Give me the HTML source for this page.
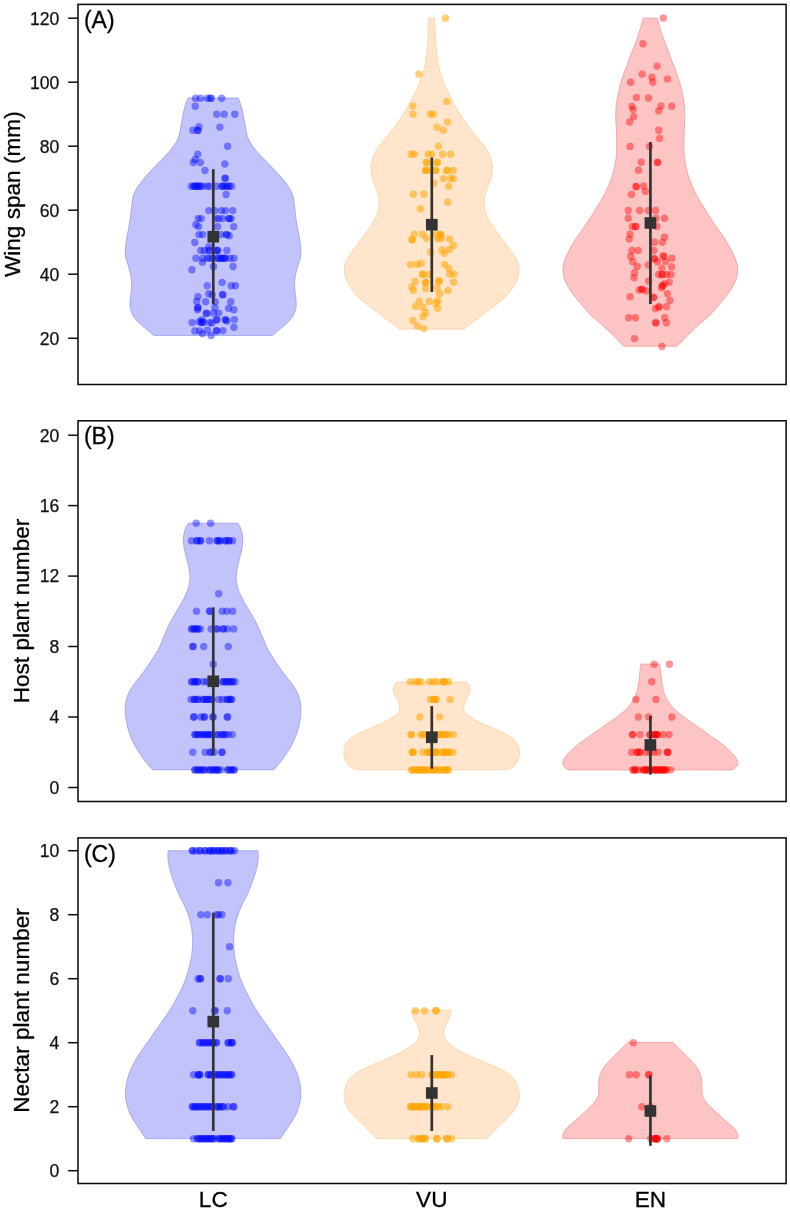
<!DOCTYPE html>
<html><head><meta charset="utf-8"><title>Violin plots</title>
<style>html,body{margin:0;padding:0;background:#fff}svg{display:block}text{font-family:"Liberation Sans",Arial,Helvetica,sans-serif;fill:#000}.tk{font-size:17.6px;fill:#111;stroke:#111;stroke-width:.25px}.ti{font-size:22.6px;stroke:#000;stroke-width:.3px}.pl{font-size:23px;stroke:#000;stroke-width:.3px}</style></head><body>
<svg width="790" height="1210" viewBox="0 0 790 1210">
<rect width="790" height="1210" fill="#fff"/>
<path d="M238.1,98.1 L239.8,102.0 L241.1,106.0 L242.4,111.0 L243.4,116.0 L244.3,121.0 L245.2,126.0 L246.1,131.0 L247.2,136.0 L249.3,141.0 L252.5,146.0 L256.4,151.0 L261.0,156.0 L265.8,161.0 L270.7,166.0 L275.4,171.0 L280.0,176.0 L284.2,181.0 L287.9,186.0 L290.9,191.0 L293.1,196.0 L294.5,206.0 L295.5,216.0 L297.1,226.0 L299.1,236.0 L300.6,246.0 L300.9,252.0 L300.8,256.0 L299.5,261.0 L297.8,266.0 L296.4,271.0 L295.3,276.0 L294.7,281.0 L294.6,286.0 L294.9,291.0 L295.5,296.0 L296.1,301.0 L296.2,306.0 L295.2,311.1 L293.1,316.0 L288.8,321.2 L283.8,326.0 L277.2,331.3 L272.4,335.4 L153.8,335.4 L149.0,331.3 L142.4,326.0 L137.4,321.2 L133.1,316.0 L131.0,311.1 L130.0,306.0 L130.1,301.0 L130.7,296.0 L131.3,291.0 L131.6,286.0 L131.5,281.0 L130.9,276.0 L129.8,271.0 L128.4,266.0 L126.7,261.0 L125.4,256.0 L125.3,252.0 L125.6,246.0 L127.1,236.0 L129.1,226.0 L130.7,216.0 L131.7,206.0 L133.1,196.0 L135.3,191.0 L138.3,186.0 L142.0,181.0 L146.2,176.0 L150.8,171.0 L155.5,166.0 L160.4,161.0 L165.2,156.0 L169.8,151.0 L173.7,146.0 L176.9,141.0 L179.0,136.0 L180.1,131.0 L181.0,126.0 L181.9,121.0 L182.8,116.0 L183.8,111.0 L185.1,106.0 L186.4,102.0 L188.1,98.1Z" fill="#c3c3fb" stroke="#9d9df5" stroke-width="0.85" stroke-linejoin="round"/>
<path d="M434.6,18.1 L434.9,26.0 L435.3,36.0 L435.9,46.0 L436.9,56.0 L438.6,66.0 L441.1,76.0 L445.2,86.0 L450.0,96.0 L455.2,106.0 L461.2,116.0 L468.2,126.0 L476.0,136.0 L484.5,146.0 L490.2,156.0 L492.7,166.0 L491.8,176.0 L488.1,186.0 L484.9,196.0 L484.1,203.0 L484.6,210.0 L486.9,216.0 L489.6,221.0 L492.6,226.0 L495.6,230.0 L499.8,236.0 L507.3,246.0 L514.5,256.0 L517.7,261.0 L518.9,266.0 L519.0,271.0 L518.3,276.0 L516.4,281.0 L514.0,286.0 L510.4,291.0 L508.2,294.0 L506.0,296.5 L500.0,301.5 L494.5,306.0 L488.7,310.2 L482.1,315.2 L475.5,320.3 L468.7,325.3 L464.6,329.1 L398.8,329.1 L394.7,325.3 L387.9,320.3 L381.3,315.2 L374.7,310.2 L368.9,306.0 L363.4,301.5 L357.4,296.5 L355.2,294.0 L353.0,291.0 L349.4,286.0 L347.0,281.0 L345.1,276.0 L344.4,271.0 L344.5,266.0 L345.7,261.0 L348.9,256.0 L356.1,246.0 L363.6,236.0 L367.8,230.0 L370.8,226.0 L373.8,221.0 L376.5,216.0 L378.8,210.0 L379.3,203.0 L378.5,196.0 L375.3,186.0 L371.6,176.0 L370.7,166.0 L373.2,156.0 L378.9,146.0 L387.4,136.0 L395.2,126.0 L402.2,116.0 L408.2,106.0 L413.4,96.0 L418.2,86.0 L422.3,76.0 L424.8,66.0 L426.5,56.0 L427.5,46.0 L428.1,36.0 L428.5,26.0 L428.8,18.1Z" fill="#fee5cc" stroke="#fbd3a3" stroke-width="0.85" stroke-linejoin="round"/>
<path d="M657.1,18.2 L658.4,22.3 L660.2,28.7 L662.1,35.0 L664.4,41.3 L666.9,47.6 L669.4,54.0 L671.6,60.3 L673.8,66.0 L676.3,72.3 L678.5,78.7 L680.4,85.0 L682.0,91.3 L683.2,97.6 L684.2,104.0 L684.7,110.3 L684.9,116.0 L684.3,128.7 L683.9,141.3 L683.9,147.6 L684.1,154.0 L684.8,160.3 L685.9,166.0 L687.3,172.3 L689.2,178.7 L691.8,185.0 L694.6,191.3 L697.9,197.6 L699.0,200.0 L701.7,204.0 L705.6,210.3 L709.2,216.0 L713.3,222.3 L717.7,228.7 L722.1,235.0 L726.3,241.3 L730.1,247.6 L733.2,254.0 L735.8,260.3 L737.4,266.0 L737.8,270.5 L736.4,278.7 L733.5,285.0 L729.7,291.3 L725.0,297.6 L719.6,304.0 L714.2,310.5 L708.9,316.0 L705.8,318.7 L698.5,325.0 L691.6,331.3 L685.2,337.6 L679.2,344.0 L677.0,346.2 L623.6,346.2 L621.4,344.0 L615.3,337.6 L609.0,331.3 L602.1,325.0 L594.8,318.7 L591.7,316.0 L586.4,310.5 L581.0,304.0 L575.6,297.6 L570.9,291.3 L567.1,285.0 L564.2,278.7 L562.8,270.5 L563.2,266.0 L564.8,260.3 L567.4,254.0 L570.5,247.6 L574.3,241.3 L578.4,235.0 L582.9,228.7 L587.3,222.3 L591.4,216.0 L595.0,210.3 L598.9,204.0 L601.6,200.0 L602.7,197.6 L606.0,191.3 L608.8,185.0 L611.4,178.7 L613.3,172.3 L614.7,166.0 L615.8,160.3 L616.5,154.0 L616.7,147.6 L616.7,141.3 L616.3,128.7 L615.7,116.0 L615.9,110.3 L616.4,104.0 L617.4,97.6 L618.6,91.3 L620.2,85.0 L622.1,78.7 L624.3,72.3 L626.8,66.0 L628.9,60.3 L631.2,54.0 L633.7,47.6 L636.2,41.3 L638.4,35.0 L640.3,28.7 L642.2,22.3 L643.5,18.2Z" fill="#fdc4c4" stroke="#f79c9c" stroke-width="0.85" stroke-linejoin="round"/>
<circle cx="195.5" cy="98.2" r="3.7" fill="rgba(0,10,255,0.43)"/>
<circle cx="200.5" cy="98.2" r="3.7" fill="rgba(0,10,255,0.43)"/>
<circle cx="207.3" cy="98.2" r="3.7" fill="rgba(0,10,255,0.43)"/>
<circle cx="210.2" cy="98.2" r="3.7" fill="rgba(0,10,255,0.43)"/>
<circle cx="211.2" cy="98.2" r="3.7" fill="rgba(0,10,255,0.43)"/>
<circle cx="221.7" cy="98.2" r="3.7" fill="rgba(0,10,255,0.43)"/>
<circle cx="195.2" cy="106.3" r="3.7" fill="rgba(0,10,255,0.43)"/>
<circle cx="216.8" cy="114.3" r="3.7" fill="rgba(0,10,255,0.43)"/>
<circle cx="224.2" cy="114.3" r="3.7" fill="rgba(0,10,255,0.43)"/>
<circle cx="234.8" cy="114.3" r="3.7" fill="rgba(0,10,255,0.43)"/>
<circle cx="198.9" cy="126.8" r="3.7" fill="rgba(0,10,255,0.43)"/>
<circle cx="192.9" cy="130.3" r="3.7" fill="rgba(0,10,255,0.43)"/>
<circle cx="197.5" cy="130.3" r="3.7" fill="rgba(0,10,255,0.43)"/>
<circle cx="198.2" cy="130.6" r="3.7" fill="rgba(0,10,255,0.43)"/>
<circle cx="219.8" cy="127.1" r="3.7" fill="rgba(0,10,255,0.43)"/>
<circle cx="227.6" cy="146.2" r="3.7" fill="rgba(0,10,255,0.43)"/>
<circle cx="197.8" cy="154.2" r="3.7" fill="rgba(0,10,255,0.43)"/>
<circle cx="195.2" cy="159.5" r="3.7" fill="rgba(0,10,255,0.43)"/>
<circle cx="193.3" cy="162.5" r="3.7" fill="rgba(0,10,255,0.43)"/>
<circle cx="200.3" cy="162.5" r="3.7" fill="rgba(0,10,255,0.43)"/>
<circle cx="204.9" cy="170.5" r="3.7" fill="rgba(0,10,255,0.43)"/>
<circle cx="224.8" cy="164.0" r="3.7" fill="rgba(0,10,255,0.43)"/>
<circle cx="225.0" cy="178.1" r="3.7" fill="rgba(0,10,255,0.43)"/>
<circle cx="225.3" cy="178.4" r="3.7" fill="rgba(0,10,255,0.43)"/>
<circle cx="191.4" cy="186.3" r="3.7" fill="rgba(0,10,255,0.43)"/>
<circle cx="193.6" cy="186.3" r="3.7" fill="rgba(0,10,255,0.43)"/>
<circle cx="195.9" cy="186.3" r="3.7" fill="rgba(0,10,255,0.43)"/>
<circle cx="198.2" cy="186.3" r="3.7" fill="rgba(0,10,255,0.43)"/>
<circle cx="200.5" cy="186.3" r="3.7" fill="rgba(0,10,255,0.43)"/>
<circle cx="202.7" cy="186.3" r="3.7" fill="rgba(0,10,255,0.43)"/>
<circle cx="194.5" cy="186.3" r="3.7" fill="rgba(0,10,255,0.43)"/>
<circle cx="197.0" cy="186.3" r="3.7" fill="rgba(0,10,255,0.43)"/>
<circle cx="199.3" cy="186.3" r="3.7" fill="rgba(0,10,255,0.43)"/>
<circle cx="207.3" cy="186.3" r="3.7" fill="rgba(0,10,255,0.43)"/>
<circle cx="209.6" cy="186.3" r="3.7" fill="rgba(0,10,255,0.43)"/>
<circle cx="216.4" cy="186.3" r="3.7" fill="rgba(0,10,255,0.43)"/>
<circle cx="221.7" cy="186.3" r="3.7" fill="rgba(0,10,255,0.43)"/>
<circle cx="224.0" cy="186.3" r="3.7" fill="rgba(0,10,255,0.43)"/>
<circle cx="226.3" cy="186.3" r="3.7" fill="rgba(0,10,255,0.43)"/>
<circle cx="229.3" cy="186.3" r="3.7" fill="rgba(0,10,255,0.43)"/>
<circle cx="231.6" cy="186.3" r="3.7" fill="rgba(0,10,255,0.43)"/>
<circle cx="222.8" cy="186.3" r="3.7" fill="rgba(0,10,255,0.43)"/>
<circle cx="227.8" cy="186.3" r="3.7" fill="rgba(0,10,255,0.43)"/>
<circle cx="226.1" cy="194.5" r="3.7" fill="rgba(0,10,255,0.43)"/>
<circle cx="208.8" cy="210.6" r="3.7" fill="rgba(0,10,255,0.43)"/>
<circle cx="214.9" cy="210.6" r="3.7" fill="rgba(0,10,255,0.43)"/>
<circle cx="221.7" cy="210.6" r="3.7" fill="rgba(0,10,255,0.43)"/>
<circle cx="225.5" cy="210.6" r="3.7" fill="rgba(0,10,255,0.43)"/>
<circle cx="232.7" cy="210.6" r="3.7" fill="rgba(0,10,255,0.43)"/>
<circle cx="198.2" cy="218.6" r="3.7" fill="rgba(0,10,255,0.43)"/>
<circle cx="201.2" cy="218.6" r="3.7" fill="rgba(0,10,255,0.43)"/>
<circle cx="215.7" cy="218.6" r="3.7" fill="rgba(0,10,255,0.43)"/>
<circle cx="218.7" cy="218.6" r="3.7" fill="rgba(0,10,255,0.43)"/>
<circle cx="222.5" cy="218.6" r="3.7" fill="rgba(0,10,255,0.43)"/>
<circle cx="228.6" cy="218.6" r="3.7" fill="rgba(0,10,255,0.43)"/>
<circle cx="229.4" cy="218.6" r="3.7" fill="rgba(0,10,255,0.43)"/>
<circle cx="231.2" cy="218.6" r="3.7" fill="rgba(0,10,255,0.43)"/>
<circle cx="195.9" cy="224.7" r="3.7" fill="rgba(0,10,255,0.43)"/>
<circle cx="198.6" cy="226.6" r="3.7" fill="rgba(0,10,255,0.43)"/>
<circle cx="217.6" cy="226.6" r="3.7" fill="rgba(0,10,255,0.43)"/>
<circle cx="233.7" cy="226.6" r="3.7" fill="rgba(0,10,255,0.43)"/>
<circle cx="198.9" cy="234.6" r="3.7" fill="rgba(0,10,255,0.43)"/>
<circle cx="202.7" cy="234.6" r="3.7" fill="rgba(0,10,255,0.43)"/>
<circle cx="221.0" cy="234.6" r="3.7" fill="rgba(0,10,255,0.43)"/>
<circle cx="226.3" cy="234.6" r="3.7" fill="rgba(0,10,255,0.43)"/>
<circle cx="226.9" cy="234.6" r="3.7" fill="rgba(0,10,255,0.43)"/>
<circle cx="229.3" cy="235.8" r="3.7" fill="rgba(0,10,255,0.43)"/>
<circle cx="194.8" cy="242.5" r="3.7" fill="rgba(0,10,255,0.43)"/>
<circle cx="208.8" cy="246.7" r="3.7" fill="rgba(0,10,255,0.43)"/>
<circle cx="200.8" cy="250.5" r="3.7" fill="rgba(0,10,255,0.43)"/>
<circle cx="204.3" cy="250.5" r="3.7" fill="rgba(0,10,255,0.43)"/>
<circle cx="208.8" cy="250.5" r="3.7" fill="rgba(0,10,255,0.43)"/>
<circle cx="209.4" cy="250.5" r="3.7" fill="rgba(0,10,255,0.43)"/>
<circle cx="216.4" cy="250.5" r="3.7" fill="rgba(0,10,255,0.43)"/>
<circle cx="217.0" cy="250.5" r="3.7" fill="rgba(0,10,255,0.43)"/>
<circle cx="217.9" cy="250.5" r="3.7" fill="rgba(0,10,255,0.43)"/>
<circle cx="226.9" cy="250.5" r="3.7" fill="rgba(0,10,255,0.43)"/>
<circle cx="195.9" cy="258.2" r="3.7" fill="rgba(0,10,255,0.43)"/>
<circle cx="202.7" cy="258.2" r="3.7" fill="rgba(0,10,255,0.43)"/>
<circle cx="207.3" cy="258.2" r="3.7" fill="rgba(0,10,255,0.43)"/>
<circle cx="209.6" cy="258.2" r="3.7" fill="rgba(0,10,255,0.43)"/>
<circle cx="212.5" cy="258.2" r="3.7" fill="rgba(0,10,255,0.43)"/>
<circle cx="217.2" cy="258.2" r="3.7" fill="rgba(0,10,255,0.43)"/>
<circle cx="220.2" cy="258.2" r="3.7" fill="rgba(0,10,255,0.43)"/>
<circle cx="223.3" cy="258.2" r="3.7" fill="rgba(0,10,255,0.43)"/>
<circle cx="225.5" cy="258.2" r="3.7" fill="rgba(0,10,255,0.43)"/>
<circle cx="221.5" cy="258.2" r="3.7" fill="rgba(0,10,255,0.43)"/>
<circle cx="224.4" cy="258.2" r="3.7" fill="rgba(0,10,255,0.43)"/>
<circle cx="230.1" cy="258.2" r="3.7" fill="rgba(0,10,255,0.43)"/>
<circle cx="233.9" cy="258.2" r="3.7" fill="rgba(0,10,255,0.43)"/>
<circle cx="218.5" cy="258.2" r="3.7" fill="rgba(0,10,255,0.43)"/>
<circle cx="202.4" cy="262.2" r="3.7" fill="rgba(0,10,255,0.43)"/>
<circle cx="213.4" cy="266.4" r="3.7" fill="rgba(0,10,255,0.43)"/>
<circle cx="233.0" cy="266.5" r="3.7" fill="rgba(0,10,255,0.43)"/>
<circle cx="191.9" cy="269.8" r="3.7" fill="rgba(0,10,255,0.43)"/>
<circle cx="222.1" cy="282.5" r="3.7" fill="rgba(0,10,255,0.43)"/>
<circle cx="207.2" cy="285.8" r="3.7" fill="rgba(0,10,255,0.43)"/>
<circle cx="231.2" cy="285.8" r="3.7" fill="rgba(0,10,255,0.43)"/>
<circle cx="235.4" cy="285.8" r="3.7" fill="rgba(0,10,255,0.43)"/>
<circle cx="208.8" cy="293.7" r="3.7" fill="rgba(0,10,255,0.43)"/>
<circle cx="212.2" cy="294.9" r="3.7" fill="rgba(0,10,255,0.43)"/>
<circle cx="222.5" cy="294.5" r="3.7" fill="rgba(0,10,255,0.43)"/>
<circle cx="222.9" cy="294.9" r="3.7" fill="rgba(0,10,255,0.43)"/>
<circle cx="198.0" cy="296.6" r="3.7" fill="rgba(0,10,255,0.43)"/>
<circle cx="196.7" cy="301.3" r="3.7" fill="rgba(0,10,255,0.43)"/>
<circle cx="205.6" cy="301.7" r="3.7" fill="rgba(0,10,255,0.43)"/>
<circle cx="215.3" cy="301.7" r="3.7" fill="rgba(0,10,255,0.43)"/>
<circle cx="230.8" cy="301.7" r="3.7" fill="rgba(0,10,255,0.43)"/>
<circle cx="197.8" cy="307.4" r="3.7" fill="rgba(0,10,255,0.43)"/>
<circle cx="198.1" cy="307.8" r="3.7" fill="rgba(0,10,255,0.43)"/>
<circle cx="197.4" cy="309.7" r="3.7" fill="rgba(0,10,255,0.43)"/>
<circle cx="214.9" cy="307.8" r="3.7" fill="rgba(0,10,255,0.43)"/>
<circle cx="228.6" cy="308.2" r="3.7" fill="rgba(0,10,255,0.43)"/>
<circle cx="233.9" cy="309.7" r="3.7" fill="rgba(0,10,255,0.43)"/>
<circle cx="206.2" cy="313.1" r="3.7" fill="rgba(0,10,255,0.43)"/>
<circle cx="206.8" cy="313.4" r="3.7" fill="rgba(0,10,255,0.43)"/>
<circle cx="213.4" cy="313.1" r="3.7" fill="rgba(0,10,255,0.43)"/>
<circle cx="218.7" cy="313.1" r="3.7" fill="rgba(0,10,255,0.43)"/>
<circle cx="202.0" cy="319.6" r="3.7" fill="rgba(0,10,255,0.43)"/>
<circle cx="192.1" cy="322.6" r="3.7" fill="rgba(0,10,255,0.43)"/>
<circle cx="199.0" cy="321.8" r="3.7" fill="rgba(0,10,255,0.43)"/>
<circle cx="201.6" cy="322.2" r="3.7" fill="rgba(0,10,255,0.43)"/>
<circle cx="201.9" cy="322.5" r="3.7" fill="rgba(0,10,255,0.43)"/>
<circle cx="203.5" cy="322.2" r="3.7" fill="rgba(0,10,255,0.43)"/>
<circle cx="209.6" cy="322.6" r="3.7" fill="rgba(0,10,255,0.43)"/>
<circle cx="211.9" cy="323.0" r="3.7" fill="rgba(0,10,255,0.43)"/>
<circle cx="216.4" cy="319.6" r="3.7" fill="rgba(0,10,255,0.43)"/>
<circle cx="216.9" cy="320.0" r="3.7" fill="rgba(0,10,255,0.43)"/>
<circle cx="225.2" cy="319.6" r="3.7" fill="rgba(0,10,255,0.43)"/>
<circle cx="225.6" cy="319.9" r="3.7" fill="rgba(0,10,255,0.43)"/>
<circle cx="227.0" cy="321.1" r="3.7" fill="rgba(0,10,255,0.43)"/>
<circle cx="234.3" cy="319.6" r="3.7" fill="rgba(0,10,255,0.43)"/>
<circle cx="233.9" cy="327.2" r="3.7" fill="rgba(0,10,255,0.43)"/>
<circle cx="194.8" cy="330.9" r="3.7" fill="rgba(0,10,255,0.43)"/>
<circle cx="199.7" cy="330.9" r="3.7" fill="rgba(0,10,255,0.43)"/>
<circle cx="202.4" cy="333.6" r="3.7" fill="rgba(0,10,255,0.43)"/>
<circle cx="207.3" cy="330.2" r="3.7" fill="rgba(0,10,255,0.43)"/>
<circle cx="211.1" cy="335.5" r="3.7" fill="rgba(0,10,255,0.43)"/>
<circle cx="216.4" cy="330.6" r="3.7" fill="rgba(0,10,255,0.43)"/>
<circle cx="216.8" cy="331.0" r="3.7" fill="rgba(0,10,255,0.43)"/>
<circle cx="222.9" cy="330.6" r="3.7" fill="rgba(0,10,255,0.43)"/>
<circle cx="445.6" cy="18.2" r="3.7" fill="rgba(255,165,0,0.55)"/>
<circle cx="418.9" cy="74.2" r="3.7" fill="rgba(255,165,0,0.55)"/>
<circle cx="446.8" cy="101.4" r="3.7" fill="rgba(255,165,0,0.55)"/>
<circle cx="412.8" cy="106.1" r="3.7" fill="rgba(255,165,0,0.55)"/>
<circle cx="413.0" cy="114.3" r="3.7" fill="rgba(255,165,0,0.55)"/>
<circle cx="430.5" cy="114.1" r="3.7" fill="rgba(255,165,0,0.55)"/>
<circle cx="433.1" cy="114.1" r="3.7" fill="rgba(255,165,0,0.55)"/>
<circle cx="447.6" cy="122.1" r="3.7" fill="rgba(255,165,0,0.55)"/>
<circle cx="436.8" cy="127.2" r="3.7" fill="rgba(255,165,0,0.55)"/>
<circle cx="443.2" cy="130.3" r="3.7" fill="rgba(255,165,0,0.55)"/>
<circle cx="438.5" cy="146.2" r="3.7" fill="rgba(255,165,0,0.55)"/>
<circle cx="411.1" cy="154.3" r="3.7" fill="rgba(255,165,0,0.55)"/>
<circle cx="414.2" cy="154.3" r="3.7" fill="rgba(255,165,0,0.55)"/>
<circle cx="428.2" cy="154.3" r="3.7" fill="rgba(255,165,0,0.55)"/>
<circle cx="432.0" cy="154.3" r="3.7" fill="rgba(255,165,0,0.55)"/>
<circle cx="442.6" cy="154.3" r="3.7" fill="rgba(255,165,0,0.55)"/>
<circle cx="450.6" cy="154.3" r="3.7" fill="rgba(255,165,0,0.55)"/>
<circle cx="426.3" cy="162.4" r="3.7" fill="rgba(255,165,0,0.55)"/>
<circle cx="427.0" cy="162.4" r="3.7" fill="rgba(255,165,0,0.55)"/>
<circle cx="436.9" cy="162.4" r="3.7" fill="rgba(255,165,0,0.55)"/>
<circle cx="437.5" cy="162.4" r="3.7" fill="rgba(255,165,0,0.55)"/>
<circle cx="425.5" cy="170.4" r="3.7" fill="rgba(255,165,0,0.55)"/>
<circle cx="426.0" cy="170.4" r="3.7" fill="rgba(255,165,0,0.55)"/>
<circle cx="427.8" cy="170.4" r="3.7" fill="rgba(255,165,0,0.55)"/>
<circle cx="435.4" cy="170.4" r="3.7" fill="rgba(255,165,0,0.55)"/>
<circle cx="436.0" cy="170.4" r="3.7" fill="rgba(255,165,0,0.55)"/>
<circle cx="446.8" cy="170.4" r="3.7" fill="rgba(255,165,0,0.55)"/>
<circle cx="447.2" cy="170.4" r="3.7" fill="rgba(255,165,0,0.55)"/>
<circle cx="453.3" cy="170.4" r="3.7" fill="rgba(255,165,0,0.55)"/>
<circle cx="443.4" cy="178.6" r="3.7" fill="rgba(255,165,0,0.55)"/>
<circle cx="450.6" cy="178.6" r="3.7" fill="rgba(255,165,0,0.55)"/>
<circle cx="453.3" cy="178.6" r="3.7" fill="rgba(255,165,0,0.55)"/>
<circle cx="433.9" cy="183.3" r="3.7" fill="rgba(255,165,0,0.55)"/>
<circle cx="448.7" cy="186.3" r="3.7" fill="rgba(255,165,0,0.55)"/>
<circle cx="413.4" cy="194.3" r="3.7" fill="rgba(255,165,0,0.55)"/>
<circle cx="423.9" cy="194.3" r="3.7" fill="rgba(255,165,0,0.55)"/>
<circle cx="447.8" cy="202.3" r="3.7" fill="rgba(255,165,0,0.55)"/>
<circle cx="420.4" cy="208.7" r="3.7" fill="rgba(255,165,0,0.55)"/>
<circle cx="414.3" cy="234.1" r="3.7" fill="rgba(255,165,0,0.55)"/>
<circle cx="412.0" cy="239.5" r="3.7" fill="rgba(255,165,0,0.55)"/>
<circle cx="412.4" cy="239.9" r="3.7" fill="rgba(255,165,0,0.55)"/>
<circle cx="422.5" cy="234.1" r="3.7" fill="rgba(255,165,0,0.55)"/>
<circle cx="426.5" cy="238.2" r="3.7" fill="rgba(255,165,0,0.55)"/>
<circle cx="436.5" cy="234.5" r="3.7" fill="rgba(255,165,0,0.55)"/>
<circle cx="440.6" cy="234.5" r="3.7" fill="rgba(255,165,0,0.55)"/>
<circle cx="441.0" cy="234.9" r="3.7" fill="rgba(255,165,0,0.55)"/>
<circle cx="437.9" cy="238.6" r="3.7" fill="rgba(255,165,0,0.55)"/>
<circle cx="441.1" cy="238.6" r="3.7" fill="rgba(255,165,0,0.55)"/>
<circle cx="449.7" cy="239.1" r="3.7" fill="rgba(255,165,0,0.55)"/>
<circle cx="453.4" cy="245.5" r="3.7" fill="rgba(255,165,0,0.55)"/>
<circle cx="449.3" cy="249.5" r="3.7" fill="rgba(255,165,0,0.55)"/>
<circle cx="442.0" cy="250.0" r="3.7" fill="rgba(255,165,0,0.55)"/>
<circle cx="444.3" cy="253.2" r="3.7" fill="rgba(255,165,0,0.55)"/>
<circle cx="430.6" cy="252.3" r="3.7" fill="rgba(255,165,0,0.55)"/>
<circle cx="410.6" cy="264.5" r="3.7" fill="rgba(255,165,0,0.55)"/>
<circle cx="417.0" cy="264.5" r="3.7" fill="rgba(255,165,0,0.55)"/>
<circle cx="421.1" cy="263.2" r="3.7" fill="rgba(255,165,0,0.55)"/>
<circle cx="444.7" cy="264.5" r="3.7" fill="rgba(255,165,0,0.55)"/>
<circle cx="448.8" cy="268.2" r="3.7" fill="rgba(255,165,0,0.55)"/>
<circle cx="422.5" cy="274.1" r="3.7" fill="rgba(255,165,0,0.55)"/>
<circle cx="423.0" cy="274.4" r="3.7" fill="rgba(255,165,0,0.55)"/>
<circle cx="429.3" cy="274.5" r="3.7" fill="rgba(255,165,0,0.55)"/>
<circle cx="449.7" cy="274.1" r="3.7" fill="rgba(255,165,0,0.55)"/>
<circle cx="453.8" cy="274.1" r="3.7" fill="rgba(255,165,0,0.55)"/>
<circle cx="415.2" cy="281.4" r="3.7" fill="rgba(255,165,0,0.55)"/>
<circle cx="425.6" cy="282.3" r="3.7" fill="rgba(255,165,0,0.55)"/>
<circle cx="426.0" cy="282.6" r="3.7" fill="rgba(255,165,0,0.55)"/>
<circle cx="438.8" cy="280.9" r="3.7" fill="rgba(255,165,0,0.55)"/>
<circle cx="439.2" cy="281.2" r="3.7" fill="rgba(255,165,0,0.55)"/>
<circle cx="453.6" cy="282.3" r="3.7" fill="rgba(255,165,0,0.55)"/>
<circle cx="412.0" cy="287.3" r="3.7" fill="rgba(255,165,0,0.55)"/>
<circle cx="413.4" cy="290.5" r="3.7" fill="rgba(255,165,0,0.55)"/>
<circle cx="425.6" cy="288.6" r="3.7" fill="rgba(255,165,0,0.55)"/>
<circle cx="437.0" cy="287.7" r="3.7" fill="rgba(255,165,0,0.55)"/>
<circle cx="447.9" cy="290.5" r="3.7" fill="rgba(255,165,0,0.55)"/>
<circle cx="439.7" cy="293.6" r="3.7" fill="rgba(255,165,0,0.55)"/>
<circle cx="437.9" cy="300.5" r="3.7" fill="rgba(255,165,0,0.55)"/>
<circle cx="419.3" cy="301.4" r="3.7" fill="rgba(255,165,0,0.55)"/>
<circle cx="429.3" cy="301.4" r="3.7" fill="rgba(255,165,0,0.55)"/>
<circle cx="436.1" cy="303.2" r="3.7" fill="rgba(255,165,0,0.55)"/>
<circle cx="415.6" cy="306.4" r="3.7" fill="rgba(255,165,0,0.55)"/>
<circle cx="422.9" cy="307.3" r="3.7" fill="rgba(255,165,0,0.55)"/>
<circle cx="437.7" cy="308.2" r="3.7" fill="rgba(255,165,0,0.55)"/>
<circle cx="425.6" cy="312.7" r="3.7" fill="rgba(255,165,0,0.55)"/>
<circle cx="423.1" cy="316.4" r="3.7" fill="rgba(255,165,0,0.55)"/>
<circle cx="412.9" cy="320.5" r="3.7" fill="rgba(255,165,0,0.55)"/>
<circle cx="417.5" cy="325.9" r="3.7" fill="rgba(255,165,0,0.55)"/>
<circle cx="423.8" cy="328.6" r="3.7" fill="rgba(255,165,0,0.55)"/>
<circle cx="663.3" cy="18.0" r="3.7" fill="rgba(255,0,0,0.42)"/>
<circle cx="643.0" cy="43.8" r="3.7" fill="rgba(255,0,0,0.42)"/>
<circle cx="657.1" cy="66.1" r="3.7" fill="rgba(255,0,0,0.42)"/>
<circle cx="642.1" cy="74.1" r="3.7" fill="rgba(255,0,0,0.42)"/>
<circle cx="651.9" cy="77.3" r="3.7" fill="rgba(255,0,0,0.42)"/>
<circle cx="652.8" cy="82.3" r="3.7" fill="rgba(255,0,0,0.42)"/>
<circle cx="667.5" cy="78.9" r="3.7" fill="rgba(255,0,0,0.42)"/>
<circle cx="630.7" cy="82.3" r="3.7" fill="rgba(255,0,0,0.42)"/>
<circle cx="636.5" cy="97.5" r="3.7" fill="rgba(255,0,0,0.42)"/>
<circle cx="648.5" cy="98.0" r="3.7" fill="rgba(255,0,0,0.42)"/>
<circle cx="631.9" cy="106.4" r="3.7" fill="rgba(255,0,0,0.42)"/>
<circle cx="633.3" cy="109.5" r="3.7" fill="rgba(255,0,0,0.42)"/>
<circle cx="661.0" cy="105.9" r="3.7" fill="rgba(255,0,0,0.42)"/>
<circle cx="658.7" cy="110.9" r="3.7" fill="rgba(255,0,0,0.42)"/>
<circle cx="671.7" cy="106.2" r="3.7" fill="rgba(255,0,0,0.42)"/>
<circle cx="633.7" cy="116.8" r="3.7" fill="rgba(255,0,0,0.42)"/>
<circle cx="629.8" cy="122.0" r="3.7" fill="rgba(255,0,0,0.42)"/>
<circle cx="658.7" cy="130.2" r="3.7" fill="rgba(255,0,0,0.42)"/>
<circle cx="659.6" cy="138.4" r="3.7" fill="rgba(255,0,0,0.42)"/>
<circle cx="630.1" cy="146.4" r="3.7" fill="rgba(255,0,0,0.42)"/>
<circle cx="649.4" cy="146.4" r="3.7" fill="rgba(255,0,0,0.42)"/>
<circle cx="641.2" cy="162.3" r="3.7" fill="rgba(255,0,0,0.42)"/>
<circle cx="657.4" cy="162.3" r="3.7" fill="rgba(255,0,0,0.42)"/>
<circle cx="657.8" cy="162.6" r="3.7" fill="rgba(255,0,0,0.42)"/>
<circle cx="638.5" cy="170.3" r="3.7" fill="rgba(255,0,0,0.42)"/>
<circle cx="636.0" cy="186.4" r="3.7" fill="rgba(255,0,0,0.42)"/>
<circle cx="636.4" cy="186.7" r="3.7" fill="rgba(255,0,0,0.42)"/>
<circle cx="643.7" cy="185.9" r="3.7" fill="rgba(255,0,0,0.42)"/>
<circle cx="645.4" cy="191.4" r="3.7" fill="rgba(255,0,0,0.42)"/>
<circle cx="631.5" cy="194.4" r="3.7" fill="rgba(255,0,0,0.42)"/>
<circle cx="628.3" cy="210.5" r="3.7" fill="rgba(255,0,0,0.42)"/>
<circle cx="639.6" cy="210.5" r="3.7" fill="rgba(255,0,0,0.42)"/>
<circle cx="648.3" cy="210.5" r="3.7" fill="rgba(255,0,0,0.42)"/>
<circle cx="655.5" cy="210.5" r="3.7" fill="rgba(255,0,0,0.42)"/>
<circle cx="628.3" cy="218.2" r="3.7" fill="rgba(255,0,0,0.42)"/>
<circle cx="664.5" cy="218.2" r="3.7" fill="rgba(255,0,0,0.42)"/>
<circle cx="656.0" cy="218.2" r="3.7" fill="rgba(255,0,0,0.42)"/>
<circle cx="632.4" cy="226.4" r="3.7" fill="rgba(255,0,0,0.42)"/>
<circle cx="635.5" cy="226.4" r="3.7" fill="rgba(255,0,0,0.42)"/>
<circle cx="635.9" cy="226.7" r="3.7" fill="rgba(255,0,0,0.42)"/>
<circle cx="656.9" cy="226.4" r="3.7" fill="rgba(255,0,0,0.42)"/>
<circle cx="630.1" cy="234.1" r="3.7" fill="rgba(255,0,0,0.42)"/>
<circle cx="629.2" cy="239.1" r="3.7" fill="rgba(255,0,0,0.42)"/>
<circle cx="664.6" cy="237.3" r="3.7" fill="rgba(255,0,0,0.42)"/>
<circle cx="662.4" cy="242.3" r="3.7" fill="rgba(255,0,0,0.42)"/>
<circle cx="654.6" cy="242.3" r="3.7" fill="rgba(255,0,0,0.42)"/>
<circle cx="631.9" cy="250.5" r="3.7" fill="rgba(255,0,0,0.42)"/>
<circle cx="638.3" cy="250.5" r="3.7" fill="rgba(255,0,0,0.42)"/>
<circle cx="653.7" cy="250.5" r="3.7" fill="rgba(255,0,0,0.42)"/>
<circle cx="630.8" cy="256.4" r="3.7" fill="rgba(255,0,0,0.42)"/>
<circle cx="663.3" cy="255.9" r="3.7" fill="rgba(255,0,0,0.42)"/>
<circle cx="663.7" cy="256.2" r="3.7" fill="rgba(255,0,0,0.42)"/>
<circle cx="671.9" cy="258.2" r="3.7" fill="rgba(255,0,0,0.42)"/>
<circle cx="654.2" cy="258.6" r="3.7" fill="rgba(255,0,0,0.42)"/>
<circle cx="654.6" cy="258.9" r="3.7" fill="rgba(255,0,0,0.42)"/>
<circle cx="657.4" cy="261.8" r="3.7" fill="rgba(255,0,0,0.42)"/>
<circle cx="665.5" cy="261.4" r="3.7" fill="rgba(255,0,0,0.42)"/>
<circle cx="632.8" cy="261.8" r="3.7" fill="rgba(255,0,0,0.42)"/>
<circle cx="637.2" cy="266.4" r="3.7" fill="rgba(255,0,0,0.42)"/>
<circle cx="648.3" cy="265.0" r="3.7" fill="rgba(255,0,0,0.42)"/>
<circle cx="661.9" cy="268.2" r="3.7" fill="rgba(255,0,0,0.42)"/>
<circle cx="671.7" cy="266.8" r="3.7" fill="rgba(255,0,0,0.42)"/>
<circle cx="634.6" cy="272.7" r="3.7" fill="rgba(255,0,0,0.42)"/>
<circle cx="634.0" cy="277.7" r="3.7" fill="rgba(255,0,0,0.42)"/>
<circle cx="658.7" cy="274.5" r="3.7" fill="rgba(255,0,0,0.42)"/>
<circle cx="661.9" cy="274.5" r="3.7" fill="rgba(255,0,0,0.42)"/>
<circle cx="662.3" cy="274.8" r="3.7" fill="rgba(255,0,0,0.42)"/>
<circle cx="666.5" cy="274.5" r="3.7" fill="rgba(255,0,0,0.42)"/>
<circle cx="671.0" cy="274.5" r="3.7" fill="rgba(255,0,0,0.42)"/>
<circle cx="648.7" cy="280.9" r="3.7" fill="rgba(255,0,0,0.42)"/>
<circle cx="669.2" cy="282.3" r="3.7" fill="rgba(255,0,0,0.42)"/>
<circle cx="664.6" cy="283.6" r="3.7" fill="rgba(255,0,0,0.42)"/>
<circle cx="662.4" cy="285.5" r="3.7" fill="rgba(255,0,0,0.42)"/>
<circle cx="662.8" cy="285.8" r="3.7" fill="rgba(255,0,0,0.42)"/>
<circle cx="661.5" cy="287.7" r="3.7" fill="rgba(255,0,0,0.42)"/>
<circle cx="639.2" cy="290.0" r="3.7" fill="rgba(255,0,0,0.42)"/>
<circle cx="641.9" cy="289.1" r="3.7" fill="rgba(255,0,0,0.42)"/>
<circle cx="642.3" cy="289.4" r="3.7" fill="rgba(255,0,0,0.42)"/>
<circle cx="646.5" cy="290.9" r="3.7" fill="rgba(255,0,0,0.42)"/>
<circle cx="667.4" cy="293.6" r="3.7" fill="rgba(255,0,0,0.42)"/>
<circle cx="630.1" cy="296.8" r="3.7" fill="rgba(255,0,0,0.42)"/>
<circle cx="653.3" cy="297.3" r="3.7" fill="rgba(255,0,0,0.42)"/>
<circle cx="653.7" cy="297.6" r="3.7" fill="rgba(255,0,0,0.42)"/>
<circle cx="669.9" cy="300.5" r="3.7" fill="rgba(255,0,0,0.42)"/>
<circle cx="658.7" cy="306.8" r="3.7" fill="rgba(255,0,0,0.42)"/>
<circle cx="659.1" cy="307.1" r="3.7" fill="rgba(255,0,0,0.42)"/>
<circle cx="655.5" cy="308.6" r="3.7" fill="rgba(255,0,0,0.42)"/>
<circle cx="666.5" cy="306.8" r="3.7" fill="rgba(255,0,0,0.42)"/>
<circle cx="628.7" cy="317.7" r="3.7" fill="rgba(255,0,0,0.42)"/>
<circle cx="635.5" cy="317.7" r="3.7" fill="rgba(255,0,0,0.42)"/>
<circle cx="664.7" cy="317.6" r="3.7" fill="rgba(255,0,0,0.42)"/>
<circle cx="666.4" cy="322.8" r="3.7" fill="rgba(255,0,0,0.42)"/>
<circle cx="655.6" cy="322.6" r="3.7" fill="rgba(255,0,0,0.42)"/>
<circle cx="656.0" cy="322.9" r="3.7" fill="rgba(255,0,0,0.42)"/>
<circle cx="634.5" cy="338.6" r="3.7" fill="rgba(255,0,0,0.42)"/>
<circle cx="661.9" cy="346.5" r="3.7" fill="rgba(255,0,0,0.42)"/>
<line x1="213.3" x2="213.3" y1="169.1" y2="304.2" stroke="#333" stroke-width="2.7" stroke-linecap="butt"/>
<rect x="207.45" y="230.90" width="11.7" height="11.6" fill="#333"/>
<line x1="431.8" x2="431.8" y1="157.5" y2="292.0" stroke="#333" stroke-width="2.7" stroke-linecap="butt"/>
<rect x="425.95" y="218.90" width="11.7" height="11.6" fill="#333"/>
<line x1="650.4" x2="650.4" y1="142.0" y2="304.0" stroke="#333" stroke-width="2.7" stroke-linecap="butt"/>
<rect x="644.55" y="217.20" width="11.7" height="11.6" fill="#333"/>
<path d="M237.9,523.2 L240.3,527.3 L242.2,533.7 L242.8,540.0 L242.3,546.3 L241.1,552.6 L239.4,559.0 L237.8,565.3 L236.7,571.0 L236.1,577.3 L236.8,583.7 L238.3,590.0 L241.2,596.3 L244.4,602.6 L248.2,609.0 L252.0,615.3 L255.3,621.0 L258.3,627.3 L261.1,633.7 L263.7,640.0 L266.3,646.3 L268.0,650.0 L269.8,652.6 L273.8,659.0 L277.9,665.3 L281.9,671.0 L286.8,677.3 L291.9,683.7 L296.0,690.0 L298.9,696.3 L300.4,702.6 L300.9,709.0 L300.8,715.3 L299.8,721.0 L299.3,724.0 L297.8,730.3 L295.5,736.7 L292.7,743.0 L289.2,749.3 L285.1,755.6 L280.4,762.0 L275.0,768.3 L273.7,769.7 L152.5,769.7 L151.2,768.3 L145.8,762.0 L141.1,755.6 L137.0,749.3 L133.5,743.0 L130.7,736.7 L128.4,730.3 L126.9,724.0 L126.4,721.0 L125.4,715.3 L125.2,709.0 L125.8,702.6 L127.3,696.3 L130.2,690.0 L134.3,683.7 L139.4,677.3 L144.3,671.0 L148.3,665.3 L152.4,659.0 L156.4,652.6 L158.2,650.0 L159.9,646.3 L162.5,640.0 L165.1,633.7 L167.9,627.3 L170.9,621.0 L174.2,615.3 L178.0,609.0 L181.8,602.6 L185.0,596.3 L187.8,590.0 L189.4,583.7 L190.1,577.3 L189.5,571.0 L188.4,565.3 L186.8,559.0 L185.1,552.6 L183.9,546.3 L183.3,540.0 L184.0,533.7 L185.9,527.3 L188.3,523.2Z" fill="#c3c3fb" stroke="#9d9df5" stroke-width="0.85" stroke-linejoin="round"/>
<path d="M466.4,682.0 L468.6,684.2 L470.1,688.7 L469.9,691.8 L468.8,695.0 L465.4,701.3 L464.1,704.5 L463.5,707.6 L464.2,710.8 L466.4,714.0 L470.5,717.1 L475.9,720.3 L481.0,723.2 L486.8,725.6 L493.6,728.3 L500.9,731.5 L507.2,734.7 L512.3,737.8 L515.4,741.0 L517.7,744.2 L518.7,747.3 L519.4,750.5 L519.5,753.6 L519.2,756.8 L518.3,760.0 L516.7,763.1 L513.9,766.3 L509.8,768.8 L507.8,769.8 L355.6,769.8 L353.6,768.8 L349.5,766.3 L346.7,763.1 L345.1,760.0 L344.2,756.8 L343.9,753.6 L344.0,750.5 L344.7,747.3 L345.7,744.2 L348.0,741.0 L351.1,737.8 L356.2,734.7 L362.5,731.5 L369.8,728.3 L376.6,725.6 L382.4,723.2 L387.5,720.3 L392.9,717.1 L397.0,714.0 L399.2,710.8 L399.9,707.6 L399.3,704.5 L398.0,701.3 L394.6,695.0 L393.5,691.8 L393.3,688.7 L394.8,684.2 L397.0,682.0Z" fill="#fee5cc" stroke="#fbd3a3" stroke-width="0.85" stroke-linejoin="round"/>
<path d="M659.5,664.1 L660.0,666.3 L660.8,672.7 L661.4,679.0 L662.1,685.3 L663.6,691.6 L666.1,698.0 L669.9,704.3 L674.5,709.5 L677.2,711.8 L684.6,717.7 L693.7,724.0 L702.8,730.2 L711.3,736.4 L720.1,742.5 L727.9,749.0 L733.9,755.3 L736.4,758.5 L737.8,761.6 L737.9,763.5 L737.0,766.1 L734.5,768.6 L731.0,769.9 L569.6,769.9 L566.1,768.6 L563.6,766.1 L562.7,763.5 L562.8,761.6 L564.2,758.5 L566.7,755.3 L572.7,749.0 L580.5,742.5 L589.3,736.4 L597.8,730.2 L606.9,724.0 L616.0,717.7 L623.4,711.8 L626.1,709.5 L630.7,704.3 L634.5,698.0 L637.0,691.6 L638.4,685.3 L639.2,679.0 L639.8,672.7 L640.6,666.3 L641.1,664.1Z" fill="#fdc4c4" stroke="#f79c9c" stroke-width="0.85" stroke-linejoin="round"/>
<circle cx="196.2" cy="523.2" r="3.7" fill="rgba(0,10,255,0.43)"/>
<circle cx="210.6" cy="523.2" r="3.7" fill="rgba(0,10,255,0.43)"/>
<circle cx="191.5" cy="540.8" r="3.7" fill="rgba(0,10,255,0.43)"/>
<circle cx="196.7" cy="540.8" r="3.7" fill="rgba(0,10,255,0.43)"/>
<circle cx="197.5" cy="540.8" r="3.7" fill="rgba(0,10,255,0.43)"/>
<circle cx="200.2" cy="540.8" r="3.7" fill="rgba(0,10,255,0.43)"/>
<circle cx="200.8" cy="540.8" r="3.7" fill="rgba(0,10,255,0.43)"/>
<circle cx="209.5" cy="540.8" r="3.7" fill="rgba(0,10,255,0.43)"/>
<circle cx="217.0" cy="540.8" r="3.7" fill="rgba(0,10,255,0.43)"/>
<circle cx="217.6" cy="540.8" r="3.7" fill="rgba(0,10,255,0.43)"/>
<circle cx="219.3" cy="540.8" r="3.7" fill="rgba(0,10,255,0.43)"/>
<circle cx="219.9" cy="540.8" r="3.7" fill="rgba(0,10,255,0.43)"/>
<circle cx="225.1" cy="540.8" r="3.7" fill="rgba(0,10,255,0.43)"/>
<circle cx="225.7" cy="540.8" r="3.7" fill="rgba(0,10,255,0.43)"/>
<circle cx="228.6" cy="540.8" r="3.7" fill="rgba(0,10,255,0.43)"/>
<circle cx="229.2" cy="540.8" r="3.7" fill="rgba(0,10,255,0.43)"/>
<circle cx="232.6" cy="540.8" r="3.7" fill="rgba(0,10,255,0.43)"/>
<circle cx="218.7" cy="593.7" r="3.7" fill="rgba(0,10,255,0.43)"/>
<circle cx="196.5" cy="611.3" r="3.7" fill="rgba(0,10,255,0.43)"/>
<circle cx="209.5" cy="611.3" r="3.7" fill="rgba(0,10,255,0.43)"/>
<circle cx="210.0" cy="611.3" r="3.7" fill="rgba(0,10,255,0.43)"/>
<circle cx="222.2" cy="611.3" r="3.7" fill="rgba(0,10,255,0.43)"/>
<circle cx="226.8" cy="611.3" r="3.7" fill="rgba(0,10,255,0.43)"/>
<circle cx="232.6" cy="611.3" r="3.7" fill="rgba(0,10,255,0.43)"/>
<circle cx="191.5" cy="628.9" r="3.7" fill="rgba(0,10,255,0.43)"/>
<circle cx="192.3" cy="628.9" r="3.7" fill="rgba(0,10,255,0.43)"/>
<circle cx="194.4" cy="628.9" r="3.7" fill="rgba(0,10,255,0.43)"/>
<circle cx="195.2" cy="628.9" r="3.7" fill="rgba(0,10,255,0.43)"/>
<circle cx="197.3" cy="628.9" r="3.7" fill="rgba(0,10,255,0.43)"/>
<circle cx="198.0" cy="628.9" r="3.7" fill="rgba(0,10,255,0.43)"/>
<circle cx="200.2" cy="628.9" r="3.7" fill="rgba(0,10,255,0.43)"/>
<circle cx="211.2" cy="628.9" r="3.7" fill="rgba(0,10,255,0.43)"/>
<circle cx="216.4" cy="628.9" r="3.7" fill="rgba(0,10,255,0.43)"/>
<circle cx="217.0" cy="628.9" r="3.7" fill="rgba(0,10,255,0.43)"/>
<circle cx="222.8" cy="628.9" r="3.7" fill="rgba(0,10,255,0.43)"/>
<circle cx="223.4" cy="628.9" r="3.7" fill="rgba(0,10,255,0.43)"/>
<circle cx="227.4" cy="628.9" r="3.7" fill="rgba(0,10,255,0.43)"/>
<circle cx="233.8" cy="628.9" r="3.7" fill="rgba(0,10,255,0.43)"/>
<circle cx="192.7" cy="646.5" r="3.7" fill="rgba(0,10,255,0.43)"/>
<circle cx="193.2" cy="646.5" r="3.7" fill="rgba(0,10,255,0.43)"/>
<circle cx="203.7" cy="646.5" r="3.7" fill="rgba(0,10,255,0.43)"/>
<circle cx="228.3" cy="646.5" r="3.7" fill="rgba(0,10,255,0.43)"/>
<circle cx="213.3" cy="664.2" r="3.7" fill="rgba(0,10,255,0.43)"/>
<circle cx="191.6" cy="681.8" r="3.7" fill="rgba(0,10,255,0.43)"/>
<circle cx="192.3" cy="681.8" r="3.7" fill="rgba(0,10,255,0.43)"/>
<circle cx="194.7" cy="681.8" r="3.7" fill="rgba(0,10,255,0.43)"/>
<circle cx="195.4" cy="681.8" r="3.7" fill="rgba(0,10,255,0.43)"/>
<circle cx="197.2" cy="681.8" r="3.7" fill="rgba(0,10,255,0.43)"/>
<circle cx="198.0" cy="681.8" r="3.7" fill="rgba(0,10,255,0.43)"/>
<circle cx="203.4" cy="681.8" r="3.7" fill="rgba(0,10,255,0.43)"/>
<circle cx="206.5" cy="681.8" r="3.7" fill="rgba(0,10,255,0.43)"/>
<circle cx="211.0" cy="681.8" r="3.7" fill="rgba(0,10,255,0.43)"/>
<circle cx="215.0" cy="681.8" r="3.7" fill="rgba(0,10,255,0.43)"/>
<circle cx="222.6" cy="681.8" r="3.7" fill="rgba(0,10,255,0.43)"/>
<circle cx="223.2" cy="681.8" r="3.7" fill="rgba(0,10,255,0.43)"/>
<circle cx="225.7" cy="681.8" r="3.7" fill="rgba(0,10,255,0.43)"/>
<circle cx="226.4" cy="681.8" r="3.7" fill="rgba(0,10,255,0.43)"/>
<circle cx="228.8" cy="681.8" r="3.7" fill="rgba(0,10,255,0.43)"/>
<circle cx="229.5" cy="681.8" r="3.7" fill="rgba(0,10,255,0.43)"/>
<circle cx="231.9" cy="681.8" r="3.7" fill="rgba(0,10,255,0.43)"/>
<circle cx="232.6" cy="681.8" r="3.7" fill="rgba(0,10,255,0.43)"/>
<circle cx="235.0" cy="681.8" r="3.7" fill="rgba(0,10,255,0.43)"/>
<circle cx="191.0" cy="699.4" r="3.7" fill="rgba(0,10,255,0.43)"/>
<circle cx="194.1" cy="699.4" r="3.7" fill="rgba(0,10,255,0.43)"/>
<circle cx="194.8" cy="699.4" r="3.7" fill="rgba(0,10,255,0.43)"/>
<circle cx="197.2" cy="699.4" r="3.7" fill="rgba(0,10,255,0.43)"/>
<circle cx="197.9" cy="699.4" r="3.7" fill="rgba(0,10,255,0.43)"/>
<circle cx="202.8" cy="699.4" r="3.7" fill="rgba(0,10,255,0.43)"/>
<circle cx="203.5" cy="699.4" r="3.7" fill="rgba(0,10,255,0.43)"/>
<circle cx="205.9" cy="699.4" r="3.7" fill="rgba(0,10,255,0.43)"/>
<circle cx="206.6" cy="699.4" r="3.7" fill="rgba(0,10,255,0.43)"/>
<circle cx="209.0" cy="699.4" r="3.7" fill="rgba(0,10,255,0.43)"/>
<circle cx="209.7" cy="699.4" r="3.7" fill="rgba(0,10,255,0.43)"/>
<circle cx="212.1" cy="699.4" r="3.7" fill="rgba(0,10,255,0.43)"/>
<circle cx="218.9" cy="699.4" r="3.7" fill="rgba(0,10,255,0.43)"/>
<circle cx="222.6" cy="699.4" r="3.7" fill="rgba(0,10,255,0.43)"/>
<circle cx="227.0" cy="699.4" r="3.7" fill="rgba(0,10,255,0.43)"/>
<circle cx="227.6" cy="699.4" r="3.7" fill="rgba(0,10,255,0.43)"/>
<circle cx="230.0" cy="699.4" r="3.7" fill="rgba(0,10,255,0.43)"/>
<circle cx="230.6" cy="699.4" r="3.7" fill="rgba(0,10,255,0.43)"/>
<circle cx="231.9" cy="699.4" r="3.7" fill="rgba(0,10,255,0.43)"/>
<circle cx="193.5" cy="717.0" r="3.7" fill="rgba(0,10,255,0.43)"/>
<circle cx="194.0" cy="717.0" r="3.7" fill="rgba(0,10,255,0.43)"/>
<circle cx="200.9" cy="717.0" r="3.7" fill="rgba(0,10,255,0.43)"/>
<circle cx="204.0" cy="717.0" r="3.7" fill="rgba(0,10,255,0.43)"/>
<circle cx="204.5" cy="717.0" r="3.7" fill="rgba(0,10,255,0.43)"/>
<circle cx="212.7" cy="717.0" r="3.7" fill="rgba(0,10,255,0.43)"/>
<circle cx="213.2" cy="717.0" r="3.7" fill="rgba(0,10,255,0.43)"/>
<circle cx="227.2" cy="717.0" r="3.7" fill="rgba(0,10,255,0.43)"/>
<circle cx="227.7" cy="717.0" r="3.7" fill="rgba(0,10,255,0.43)"/>
<circle cx="194.7" cy="734.6" r="3.7" fill="rgba(0,10,255,0.43)"/>
<circle cx="195.3" cy="734.6" r="3.7" fill="rgba(0,10,255,0.43)"/>
<circle cx="197.8" cy="734.6" r="3.7" fill="rgba(0,10,255,0.43)"/>
<circle cx="198.4" cy="734.6" r="3.7" fill="rgba(0,10,255,0.43)"/>
<circle cx="201.5" cy="734.6" r="3.7" fill="rgba(0,10,255,0.43)"/>
<circle cx="202.1" cy="734.6" r="3.7" fill="rgba(0,10,255,0.43)"/>
<circle cx="204.6" cy="734.6" r="3.7" fill="rgba(0,10,255,0.43)"/>
<circle cx="205.2" cy="734.6" r="3.7" fill="rgba(0,10,255,0.43)"/>
<circle cx="207.7" cy="734.6" r="3.7" fill="rgba(0,10,255,0.43)"/>
<circle cx="208.3" cy="734.6" r="3.7" fill="rgba(0,10,255,0.43)"/>
<circle cx="210.2" cy="734.6" r="3.7" fill="rgba(0,10,255,0.43)"/>
<circle cx="210.8" cy="734.6" r="3.7" fill="rgba(0,10,255,0.43)"/>
<circle cx="217.0" cy="734.6" r="3.7" fill="rgba(0,10,255,0.43)"/>
<circle cx="217.5" cy="734.6" r="3.7" fill="rgba(0,10,255,0.43)"/>
<circle cx="221.4" cy="734.6" r="3.7" fill="rgba(0,10,255,0.43)"/>
<circle cx="222.0" cy="734.6" r="3.7" fill="rgba(0,10,255,0.43)"/>
<circle cx="224.5" cy="734.6" r="3.7" fill="rgba(0,10,255,0.43)"/>
<circle cx="225.0" cy="734.6" r="3.7" fill="rgba(0,10,255,0.43)"/>
<circle cx="228.2" cy="734.6" r="3.7" fill="rgba(0,10,255,0.43)"/>
<circle cx="232.3" cy="734.6" r="3.7" fill="rgba(0,10,255,0.43)"/>
<circle cx="192.8" cy="752.3" r="3.7" fill="rgba(0,10,255,0.43)"/>
<circle cx="205.2" cy="752.3" r="3.7" fill="rgba(0,10,255,0.43)"/>
<circle cx="210.2" cy="752.3" r="3.7" fill="rgba(0,10,255,0.43)"/>
<circle cx="210.7" cy="752.3" r="3.7" fill="rgba(0,10,255,0.43)"/>
<circle cx="214.0" cy="752.3" r="3.7" fill="rgba(0,10,255,0.43)"/>
<circle cx="221.7" cy="752.3" r="3.7" fill="rgba(0,10,255,0.43)"/>
<circle cx="222.2" cy="752.3" r="3.7" fill="rgba(0,10,255,0.43)"/>
<circle cx="194.7" cy="769.9" r="3.7" fill="rgba(0,10,255,0.43)"/>
<circle cx="195.3" cy="769.9" r="3.7" fill="rgba(0,10,255,0.43)"/>
<circle cx="197.8" cy="769.9" r="3.7" fill="rgba(0,10,255,0.43)"/>
<circle cx="198.4" cy="769.9" r="3.7" fill="rgba(0,10,255,0.43)"/>
<circle cx="200.9" cy="769.9" r="3.7" fill="rgba(0,10,255,0.43)"/>
<circle cx="201.5" cy="769.9" r="3.7" fill="rgba(0,10,255,0.43)"/>
<circle cx="204.0" cy="769.9" r="3.7" fill="rgba(0,10,255,0.43)"/>
<circle cx="204.6" cy="769.9" r="3.7" fill="rgba(0,10,255,0.43)"/>
<circle cx="209.0" cy="769.9" r="3.7" fill="rgba(0,10,255,0.43)"/>
<circle cx="209.6" cy="769.9" r="3.7" fill="rgba(0,10,255,0.43)"/>
<circle cx="212.1" cy="769.9" r="3.7" fill="rgba(0,10,255,0.43)"/>
<circle cx="212.7" cy="769.9" r="3.7" fill="rgba(0,10,255,0.43)"/>
<circle cx="215.2" cy="769.9" r="3.7" fill="rgba(0,10,255,0.43)"/>
<circle cx="215.8" cy="769.9" r="3.7" fill="rgba(0,10,255,0.43)"/>
<circle cx="217.7" cy="769.9" r="3.7" fill="rgba(0,10,255,0.43)"/>
<circle cx="218.3" cy="769.9" r="3.7" fill="rgba(0,10,255,0.43)"/>
<circle cx="220.8" cy="769.9" r="3.7" fill="rgba(0,10,255,0.43)"/>
<circle cx="227.6" cy="769.9" r="3.7" fill="rgba(0,10,255,0.43)"/>
<circle cx="228.2" cy="769.9" r="3.7" fill="rgba(0,10,255,0.43)"/>
<circle cx="230.7" cy="769.9" r="3.7" fill="rgba(0,10,255,0.43)"/>
<circle cx="231.3" cy="769.9" r="3.7" fill="rgba(0,10,255,0.43)"/>
<circle cx="233.8" cy="769.9" r="3.7" fill="rgba(0,10,255,0.43)"/>
<circle cx="234.3" cy="769.9" r="3.7" fill="rgba(0,10,255,0.43)"/>
<circle cx="410.2" cy="681.8" r="3.7" fill="rgba(255,165,0,0.55)"/>
<circle cx="415.8" cy="681.8" r="3.7" fill="rgba(255,165,0,0.55)"/>
<circle cx="418.3" cy="681.8" r="3.7" fill="rgba(255,165,0,0.55)"/>
<circle cx="420.9" cy="681.8" r="3.7" fill="rgba(255,165,0,0.55)"/>
<circle cx="429.5" cy="681.8" r="3.7" fill="rgba(255,165,0,0.55)"/>
<circle cx="433.5" cy="681.8" r="3.7" fill="rgba(255,165,0,0.55)"/>
<circle cx="436.6" cy="681.8" r="3.7" fill="rgba(255,165,0,0.55)"/>
<circle cx="442.6" cy="681.8" r="3.7" fill="rgba(255,165,0,0.55)"/>
<circle cx="443.6" cy="681.8" r="3.7" fill="rgba(255,165,0,0.55)"/>
<circle cx="444.2" cy="681.8" r="3.7" fill="rgba(255,165,0,0.55)"/>
<circle cx="448.7" cy="681.8" r="3.7" fill="rgba(255,165,0,0.55)"/>
<circle cx="430.5" cy="699.4" r="3.7" fill="rgba(255,165,0,0.55)"/>
<circle cx="433.5" cy="699.4" r="3.7" fill="rgba(255,165,0,0.55)"/>
<circle cx="434.0" cy="699.4" r="3.7" fill="rgba(255,165,0,0.55)"/>
<circle cx="435.5" cy="699.4" r="3.7" fill="rgba(255,165,0,0.55)"/>
<circle cx="436.0" cy="699.4" r="3.7" fill="rgba(255,165,0,0.55)"/>
<circle cx="450.2" cy="699.4" r="3.7" fill="rgba(255,165,0,0.55)"/>
<circle cx="419.8" cy="717.0" r="3.7" fill="rgba(255,165,0,0.55)"/>
<circle cx="439.6" cy="717.0" r="3.7" fill="rgba(255,165,0,0.55)"/>
<circle cx="411.0" cy="734.6" r="3.7" fill="rgba(255,165,0,0.55)"/>
<circle cx="411.5" cy="734.6" r="3.7" fill="rgba(255,165,0,0.55)"/>
<circle cx="420.4" cy="734.6" r="3.7" fill="rgba(255,165,0,0.55)"/>
<circle cx="423.4" cy="734.6" r="3.7" fill="rgba(255,165,0,0.55)"/>
<circle cx="424.0" cy="734.6" r="3.7" fill="rgba(255,165,0,0.55)"/>
<circle cx="428.0" cy="734.6" r="3.7" fill="rgba(255,165,0,0.55)"/>
<circle cx="432.0" cy="734.6" r="3.7" fill="rgba(255,165,0,0.55)"/>
<circle cx="436.0" cy="734.6" r="3.7" fill="rgba(255,165,0,0.55)"/>
<circle cx="439.6" cy="734.6" r="3.7" fill="rgba(255,165,0,0.55)"/>
<circle cx="440.1" cy="734.6" r="3.7" fill="rgba(255,165,0,0.55)"/>
<circle cx="442.6" cy="734.6" r="3.7" fill="rgba(255,165,0,0.55)"/>
<circle cx="443.1" cy="734.6" r="3.7" fill="rgba(255,165,0,0.55)"/>
<circle cx="447.2" cy="734.6" r="3.7" fill="rgba(255,165,0,0.55)"/>
<circle cx="447.7" cy="734.6" r="3.7" fill="rgba(255,165,0,0.55)"/>
<circle cx="453.3" cy="734.6" r="3.7" fill="rgba(255,165,0,0.55)"/>
<circle cx="412.3" cy="752.3" r="3.7" fill="rgba(255,165,0,0.55)"/>
<circle cx="412.8" cy="752.3" r="3.7" fill="rgba(255,165,0,0.55)"/>
<circle cx="413.3" cy="752.3" r="3.7" fill="rgba(255,165,0,0.55)"/>
<circle cx="422.9" cy="752.3" r="3.7" fill="rgba(255,165,0,0.55)"/>
<circle cx="427.4" cy="752.3" r="3.7" fill="rgba(255,165,0,0.55)"/>
<circle cx="428.0" cy="752.3" r="3.7" fill="rgba(255,165,0,0.55)"/>
<circle cx="430.5" cy="752.3" r="3.7" fill="rgba(255,165,0,0.55)"/>
<circle cx="431.0" cy="752.3" r="3.7" fill="rgba(255,165,0,0.55)"/>
<circle cx="434.5" cy="752.3" r="3.7" fill="rgba(255,165,0,0.55)"/>
<circle cx="435.0" cy="752.3" r="3.7" fill="rgba(255,165,0,0.55)"/>
<circle cx="436.6" cy="752.3" r="3.7" fill="rgba(255,165,0,0.55)"/>
<circle cx="437.1" cy="752.3" r="3.7" fill="rgba(255,165,0,0.55)"/>
<circle cx="442.6" cy="752.3" r="3.7" fill="rgba(255,165,0,0.55)"/>
<circle cx="443.1" cy="752.3" r="3.7" fill="rgba(255,165,0,0.55)"/>
<circle cx="445.7" cy="752.3" r="3.7" fill="rgba(255,165,0,0.55)"/>
<circle cx="446.2" cy="752.3" r="3.7" fill="rgba(255,165,0,0.55)"/>
<circle cx="448.7" cy="752.3" r="3.7" fill="rgba(255,165,0,0.55)"/>
<circle cx="449.2" cy="752.3" r="3.7" fill="rgba(255,165,0,0.55)"/>
<circle cx="452.8" cy="752.3" r="3.7" fill="rgba(255,165,0,0.55)"/>
<circle cx="411.7" cy="769.9" r="3.7" fill="rgba(255,165,0,0.55)"/>
<circle cx="412.3" cy="769.9" r="3.7" fill="rgba(255,165,0,0.55)"/>
<circle cx="414.8" cy="769.9" r="3.7" fill="rgba(255,165,0,0.55)"/>
<circle cx="415.3" cy="769.9" r="3.7" fill="rgba(255,165,0,0.55)"/>
<circle cx="418.3" cy="769.9" r="3.7" fill="rgba(255,165,0,0.55)"/>
<circle cx="418.9" cy="769.9" r="3.7" fill="rgba(255,165,0,0.55)"/>
<circle cx="421.4" cy="769.9" r="3.7" fill="rgba(255,165,0,0.55)"/>
<circle cx="422.0" cy="769.9" r="3.7" fill="rgba(255,165,0,0.55)"/>
<circle cx="424.4" cy="769.9" r="3.7" fill="rgba(255,165,0,0.55)"/>
<circle cx="425.0" cy="769.9" r="3.7" fill="rgba(255,165,0,0.55)"/>
<circle cx="428.5" cy="769.9" r="3.7" fill="rgba(255,165,0,0.55)"/>
<circle cx="429.0" cy="769.9" r="3.7" fill="rgba(255,165,0,0.55)"/>
<circle cx="432.5" cy="769.9" r="3.7" fill="rgba(255,165,0,0.55)"/>
<circle cx="433.0" cy="769.9" r="3.7" fill="rgba(255,165,0,0.55)"/>
<circle cx="435.5" cy="769.9" r="3.7" fill="rgba(255,165,0,0.55)"/>
<circle cx="436.0" cy="769.9" r="3.7" fill="rgba(255,165,0,0.55)"/>
<circle cx="439.6" cy="769.9" r="3.7" fill="rgba(255,165,0,0.55)"/>
<circle cx="440.1" cy="769.9" r="3.7" fill="rgba(255,165,0,0.55)"/>
<circle cx="443.6" cy="769.9" r="3.7" fill="rgba(255,165,0,0.55)"/>
<circle cx="444.1" cy="769.9" r="3.7" fill="rgba(255,165,0,0.55)"/>
<circle cx="446.7" cy="769.9" r="3.7" fill="rgba(255,165,0,0.55)"/>
<circle cx="447.2" cy="769.9" r="3.7" fill="rgba(255,165,0,0.55)"/>
<circle cx="448.2" cy="769.9" r="3.7" fill="rgba(255,165,0,0.55)"/>
<circle cx="654.2" cy="664.2" r="3.7" fill="rgba(255,0,0,0.42)"/>
<circle cx="669.5" cy="664.2" r="3.7" fill="rgba(255,0,0,0.42)"/>
<circle cx="651.8" cy="681.8" r="3.7" fill="rgba(255,0,0,0.42)"/>
<circle cx="635.9" cy="699.4" r="3.7" fill="rgba(255,0,0,0.42)"/>
<circle cx="655.9" cy="699.4" r="3.7" fill="rgba(255,0,0,0.42)"/>
<circle cx="638.4" cy="717.0" r="3.7" fill="rgba(255,0,0,0.42)"/>
<circle cx="648.6" cy="717.0" r="3.7" fill="rgba(255,0,0,0.42)"/>
<circle cx="671.9" cy="717.0" r="3.7" fill="rgba(255,0,0,0.42)"/>
<circle cx="632.3" cy="734.6" r="3.7" fill="rgba(255,0,0,0.42)"/>
<circle cx="632.8" cy="734.6" r="3.7" fill="rgba(255,0,0,0.42)"/>
<circle cx="640.0" cy="734.6" r="3.7" fill="rgba(255,0,0,0.42)"/>
<circle cx="649.7" cy="734.6" r="3.7" fill="rgba(255,0,0,0.42)"/>
<circle cx="650.2" cy="734.6" r="3.7" fill="rgba(255,0,0,0.42)"/>
<circle cx="654.0" cy="734.6" r="3.7" fill="rgba(255,0,0,0.42)"/>
<circle cx="654.5" cy="734.6" r="3.7" fill="rgba(255,0,0,0.42)"/>
<circle cx="655.0" cy="734.6" r="3.7" fill="rgba(255,0,0,0.42)"/>
<circle cx="656.6" cy="734.6" r="3.7" fill="rgba(255,0,0,0.42)"/>
<circle cx="657.1" cy="734.6" r="3.7" fill="rgba(255,0,0,0.42)"/>
<circle cx="657.6" cy="734.6" r="3.7" fill="rgba(255,0,0,0.42)"/>
<circle cx="663.1" cy="734.6" r="3.7" fill="rgba(255,0,0,0.42)"/>
<circle cx="669.0" cy="734.6" r="3.7" fill="rgba(255,0,0,0.42)"/>
<circle cx="631.7" cy="752.3" r="3.7" fill="rgba(255,0,0,0.42)"/>
<circle cx="636.8" cy="752.3" r="3.7" fill="rgba(255,0,0,0.42)"/>
<circle cx="637.3" cy="752.3" r="3.7" fill="rgba(255,0,0,0.42)"/>
<circle cx="639.5" cy="752.3" r="3.7" fill="rgba(255,0,0,0.42)"/>
<circle cx="640.0" cy="752.3" r="3.7" fill="rgba(255,0,0,0.42)"/>
<circle cx="645.9" cy="752.3" r="3.7" fill="rgba(255,0,0,0.42)"/>
<circle cx="650.0" cy="752.3" r="3.7" fill="rgba(255,0,0,0.42)"/>
<circle cx="654.0" cy="752.3" r="3.7" fill="rgba(255,0,0,0.42)"/>
<circle cx="658.2" cy="752.3" r="3.7" fill="rgba(255,0,0,0.42)"/>
<circle cx="667.1" cy="752.3" r="3.7" fill="rgba(255,0,0,0.42)"/>
<circle cx="667.6" cy="752.3" r="3.7" fill="rgba(255,0,0,0.42)"/>
<circle cx="668.0" cy="752.3" r="3.7" fill="rgba(255,0,0,0.42)"/>
<circle cx="633.0" cy="769.9" r="3.7" fill="rgba(255,0,0,0.42)"/>
<circle cx="633.5" cy="769.9" r="3.7" fill="rgba(255,0,0,0.42)"/>
<circle cx="635.2" cy="769.9" r="3.7" fill="rgba(255,0,0,0.42)"/>
<circle cx="635.7" cy="769.9" r="3.7" fill="rgba(255,0,0,0.42)"/>
<circle cx="638.9" cy="769.9" r="3.7" fill="rgba(255,0,0,0.42)"/>
<circle cx="643.2" cy="769.9" r="3.7" fill="rgba(255,0,0,0.42)"/>
<circle cx="643.7" cy="769.9" r="3.7" fill="rgba(255,0,0,0.42)"/>
<circle cx="645.4" cy="769.9" r="3.7" fill="rgba(255,0,0,0.42)"/>
<circle cx="645.9" cy="769.9" r="3.7" fill="rgba(255,0,0,0.42)"/>
<circle cx="647.5" cy="769.9" r="3.7" fill="rgba(255,0,0,0.42)"/>
<circle cx="648.0" cy="769.9" r="3.7" fill="rgba(255,0,0,0.42)"/>
<circle cx="650.0" cy="769.9" r="3.7" fill="rgba(255,0,0,0.42)"/>
<circle cx="652.9" cy="769.9" r="3.7" fill="rgba(255,0,0,0.42)"/>
<circle cx="653.4" cy="769.9" r="3.7" fill="rgba(255,0,0,0.42)"/>
<circle cx="655.0" cy="769.9" r="3.7" fill="rgba(255,0,0,0.42)"/>
<circle cx="655.5" cy="769.9" r="3.7" fill="rgba(255,0,0,0.42)"/>
<circle cx="657.2" cy="769.9" r="3.7" fill="rgba(255,0,0,0.42)"/>
<circle cx="657.7" cy="769.9" r="3.7" fill="rgba(255,0,0,0.42)"/>
<circle cx="659.3" cy="769.9" r="3.7" fill="rgba(255,0,0,0.42)"/>
<circle cx="659.8" cy="769.9" r="3.7" fill="rgba(255,0,0,0.42)"/>
<circle cx="661.5" cy="769.9" r="3.7" fill="rgba(255,0,0,0.42)"/>
<circle cx="662.0" cy="769.9" r="3.7" fill="rgba(255,0,0,0.42)"/>
<circle cx="663.6" cy="769.9" r="3.7" fill="rgba(255,0,0,0.42)"/>
<circle cx="664.1" cy="769.9" r="3.7" fill="rgba(255,0,0,0.42)"/>
<circle cx="665.8" cy="769.9" r="3.7" fill="rgba(255,0,0,0.42)"/>
<circle cx="666.3" cy="769.9" r="3.7" fill="rgba(255,0,0,0.42)"/>
<circle cx="670.6" cy="769.9" r="3.7" fill="rgba(255,0,0,0.42)"/>
<line x1="213.3" x2="213.3" y1="607.4" y2="755.2" stroke="#333" stroke-width="2.7" stroke-linecap="butt"/>
<rect x="207.45" y="675.50" width="11.7" height="11.6" fill="#333"/>
<line x1="431.8" x2="431.8" y1="706.1" y2="768.7" stroke="#333" stroke-width="2.7" stroke-linecap="butt"/>
<rect x="425.95" y="731.50" width="11.7" height="11.6" fill="#333"/>
<line x1="650.4" x2="650.4" y1="715.8" y2="774.6" stroke="#333" stroke-width="2.7" stroke-linecap="butt"/>
<rect x="644.55" y="739.20" width="11.7" height="11.6" fill="#333"/>
<path d="M257.9,850.8 L258.2,852.3 L258.2,858.7 L257.4,865.0 L255.9,871.3 L253.8,877.6 L251.6,884.0 L249.1,890.3 L246.5,896.0 L243.2,902.3 L240.3,908.7 L237.8,915.0 L235.9,921.3 L234.6,927.6 L233.9,934.0 L233.5,940.3 L233.7,946.0 L234.1,952.3 L235.1,958.7 L236.4,965.0 L238.1,971.3 L240.0,977.6 L242.5,984.0 L245.4,990.3 L248.3,996.0 L251.7,1002.3 L255.5,1008.7 L259.6,1015.0 L263.3,1020.3 L268.5,1027.6 L272.9,1034.0 L277.3,1040.3 L281.4,1046.0 L285.7,1052.3 L289.9,1058.7 L293.3,1065.0 L296.2,1071.3 L298.4,1077.6 L299.9,1084.0 L300.6,1090.3 L300.9,1095.0 L300.3,1100.3 L298.7,1106.7 L296.5,1113.0 L293.3,1119.3 L289.2,1125.6 L284.8,1132.0 L281.0,1137.7 L280.6,1138.6 L145.6,1138.6 L145.2,1137.7 L141.4,1132.0 L137.0,1125.6 L132.9,1119.3 L129.7,1113.0 L127.5,1106.7 L125.9,1100.3 L125.3,1095.0 L125.6,1090.3 L126.3,1084.0 L127.8,1077.6 L130.0,1071.3 L132.9,1065.0 L136.3,1058.7 L140.5,1052.3 L144.8,1046.0 L148.9,1040.3 L153.3,1034.0 L157.7,1027.6 L162.9,1020.3 L166.6,1015.0 L170.7,1008.7 L174.5,1002.3 L177.8,996.0 L180.8,990.3 L183.7,984.0 L186.2,977.6 L188.1,971.3 L189.8,965.0 L191.1,958.7 L192.1,952.3 L192.5,946.0 L192.7,940.3 L192.3,934.0 L191.6,927.6 L190.3,921.3 L188.4,915.0 L185.9,908.7 L183.0,902.3 L179.7,896.0 L177.1,890.3 L174.6,884.0 L172.4,877.6 L170.3,871.3 L168.8,865.0 L168.0,858.7 L168.0,852.3 L168.3,850.8Z" fill="#c3c3fb" stroke="#9d9df5" stroke-width="0.85" stroke-linejoin="round"/>
<path d="M451.2,1010.2 L451.2,1013.2 L449.9,1017.7 L448.4,1020.8 L446.6,1024.0 L445.1,1027.2 L444.1,1030.3 L443.8,1033.5 L444.2,1036.6 L445.8,1039.8 L448.4,1043.0 L452.1,1046.1 L457.2,1049.3 L462.9,1052.5 L469.2,1055.5 L478.5,1059.5 L485.8,1062.7 L493.1,1065.8 L500.1,1069.0 L506.1,1072.2 L510.5,1075.3 L513.7,1078.5 L515.9,1081.6 L518.4,1088.0 L519.4,1094.5 L519.3,1097.0 L518.7,1101.3 L516.1,1107.7 L511.4,1114.0 L505.4,1120.3 L498.7,1126.6 L492.4,1133.0 L487.0,1138.5 L376.4,1138.5 L371.0,1133.0 L364.7,1126.6 L358.0,1120.3 L352.0,1114.0 L347.3,1107.7 L344.7,1101.3 L344.1,1097.0 L344.0,1094.5 L345.0,1088.0 L347.5,1081.6 L349.7,1078.5 L352.9,1075.3 L357.3,1072.2 L363.3,1069.0 L370.3,1065.8 L377.6,1062.7 L384.9,1059.5 L394.2,1055.5 L400.5,1052.5 L406.2,1049.3 L411.2,1046.1 L415.0,1043.0 L417.6,1039.8 L419.2,1036.6 L419.6,1033.5 L419.3,1030.3 L418.3,1027.2 L416.8,1024.0 L415.0,1020.8 L413.5,1017.7 L412.2,1013.2 L412.2,1010.2Z" fill="#fee5cc" stroke="#fbd3a3" stroke-width="0.85" stroke-linejoin="round"/>
<path d="M672.9,1042.4 L678.0,1047.5 L681.1,1050.7 L687.5,1057.0 L693.5,1063.3 L698.2,1069.6 L701.0,1076.0 L701.8,1082.3 L701.9,1088.0 L702.1,1094.3 L703.1,1097.5 L705.0,1100.7 L707.5,1103.8 L710.7,1107.0 L717.3,1113.3 L724.3,1119.6 L731.6,1126.0 L734.7,1129.1 L736.9,1132.3 L737.9,1135.5 L737.6,1138.6 L563.0,1138.6 L562.7,1135.5 L563.7,1132.3 L565.9,1129.1 L569.0,1126.0 L576.3,1119.6 L583.3,1113.3 L589.9,1107.0 L593.1,1103.8 L595.6,1100.7 L597.5,1097.5 L598.5,1094.3 L598.7,1088.0 L598.8,1082.3 L599.6,1076.0 L602.4,1069.6 L607.1,1063.3 L613.1,1057.0 L619.5,1050.7 L622.6,1047.5 L627.7,1042.4Z" fill="#fdc4c4" stroke="#f79c9c" stroke-width="0.85" stroke-linejoin="round"/>
<circle cx="192.1" cy="850.7" r="3.7" fill="rgba(0,10,255,0.43)"/>
<circle cx="193.0" cy="850.7" r="3.7" fill="rgba(0,10,255,0.43)"/>
<circle cx="199.7" cy="850.7" r="3.7" fill="rgba(0,10,255,0.43)"/>
<circle cx="200.3" cy="850.7" r="3.7" fill="rgba(0,10,255,0.43)"/>
<circle cx="204.8" cy="850.7" r="3.7" fill="rgba(0,10,255,0.43)"/>
<circle cx="205.4" cy="850.7" r="3.7" fill="rgba(0,10,255,0.43)"/>
<circle cx="209.3" cy="850.7" r="3.7" fill="rgba(0,10,255,0.43)"/>
<circle cx="209.9" cy="850.7" r="3.7" fill="rgba(0,10,255,0.43)"/>
<circle cx="213.4" cy="850.7" r="3.7" fill="rgba(0,10,255,0.43)"/>
<circle cx="214.0" cy="850.7" r="3.7" fill="rgba(0,10,255,0.43)"/>
<circle cx="217.4" cy="850.7" r="3.7" fill="rgba(0,10,255,0.43)"/>
<circle cx="218.0" cy="850.7" r="3.7" fill="rgba(0,10,255,0.43)"/>
<circle cx="222.0" cy="850.7" r="3.7" fill="rgba(0,10,255,0.43)"/>
<circle cx="222.6" cy="850.7" r="3.7" fill="rgba(0,10,255,0.43)"/>
<circle cx="225.5" cy="850.7" r="3.7" fill="rgba(0,10,255,0.43)"/>
<circle cx="226.1" cy="850.7" r="3.7" fill="rgba(0,10,255,0.43)"/>
<circle cx="229.6" cy="850.7" r="3.7" fill="rgba(0,10,255,0.43)"/>
<circle cx="230.2" cy="850.7" r="3.7" fill="rgba(0,10,255,0.43)"/>
<circle cx="234.6" cy="850.7" r="3.7" fill="rgba(0,10,255,0.43)"/>
<circle cx="196.0" cy="850.7" r="3.7" fill="rgba(0,10,255,0.43)"/>
<circle cx="211.5" cy="850.7" r="3.7" fill="rgba(0,10,255,0.43)"/>
<circle cx="220.0" cy="850.7" r="3.7" fill="rgba(0,10,255,0.43)"/>
<circle cx="232.0" cy="850.7" r="3.7" fill="rgba(0,10,255,0.43)"/>
<circle cx="218.6" cy="882.7" r="3.7" fill="rgba(0,10,255,0.43)"/>
<circle cx="227.9" cy="882.7" r="3.7" fill="rgba(0,10,255,0.43)"/>
<circle cx="200.8" cy="914.7" r="3.7" fill="rgba(0,10,255,0.43)"/>
<circle cx="207.4" cy="914.7" r="3.7" fill="rgba(0,10,255,0.43)"/>
<circle cx="216.6" cy="914.7" r="3.7" fill="rgba(0,10,255,0.43)"/>
<circle cx="218.6" cy="914.7" r="3.7" fill="rgba(0,10,255,0.43)"/>
<circle cx="221.9" cy="914.7" r="3.7" fill="rgba(0,10,255,0.43)"/>
<circle cx="229.6" cy="946.7" r="3.7" fill="rgba(0,10,255,0.43)"/>
<circle cx="198.1" cy="978.7" r="3.7" fill="rgba(0,10,255,0.43)"/>
<circle cx="200.1" cy="978.7" r="3.7" fill="rgba(0,10,255,0.43)"/>
<circle cx="200.6" cy="978.7" r="3.7" fill="rgba(0,10,255,0.43)"/>
<circle cx="219.9" cy="978.7" r="3.7" fill="rgba(0,10,255,0.43)"/>
<circle cx="220.4" cy="978.7" r="3.7" fill="rgba(0,10,255,0.43)"/>
<circle cx="228.3" cy="978.7" r="3.7" fill="rgba(0,10,255,0.43)"/>
<circle cx="192.8" cy="1010.7" r="3.7" fill="rgba(0,10,255,0.43)"/>
<circle cx="214.7" cy="1010.7" r="3.7" fill="rgba(0,10,255,0.43)"/>
<circle cx="215.2" cy="1010.7" r="3.7" fill="rgba(0,10,255,0.43)"/>
<circle cx="227.2" cy="1010.7" r="3.7" fill="rgba(0,10,255,0.43)"/>
<circle cx="199.4" cy="1042.7" r="3.7" fill="rgba(0,10,255,0.43)"/>
<circle cx="200.0" cy="1042.7" r="3.7" fill="rgba(0,10,255,0.43)"/>
<circle cx="202.8" cy="1042.7" r="3.7" fill="rgba(0,10,255,0.43)"/>
<circle cx="203.4" cy="1042.7" r="3.7" fill="rgba(0,10,255,0.43)"/>
<circle cx="206.1" cy="1042.7" r="3.7" fill="rgba(0,10,255,0.43)"/>
<circle cx="206.7" cy="1042.7" r="3.7" fill="rgba(0,10,255,0.43)"/>
<circle cx="209.4" cy="1042.7" r="3.7" fill="rgba(0,10,255,0.43)"/>
<circle cx="210.0" cy="1042.7" r="3.7" fill="rgba(0,10,255,0.43)"/>
<circle cx="212.7" cy="1042.7" r="3.7" fill="rgba(0,10,255,0.43)"/>
<circle cx="213.3" cy="1042.7" r="3.7" fill="rgba(0,10,255,0.43)"/>
<circle cx="216.0" cy="1042.7" r="3.7" fill="rgba(0,10,255,0.43)"/>
<circle cx="216.6" cy="1042.7" r="3.7" fill="rgba(0,10,255,0.43)"/>
<circle cx="227.9" cy="1042.7" r="3.7" fill="rgba(0,10,255,0.43)"/>
<circle cx="228.5" cy="1042.7" r="3.7" fill="rgba(0,10,255,0.43)"/>
<circle cx="231.2" cy="1042.7" r="3.7" fill="rgba(0,10,255,0.43)"/>
<circle cx="231.8" cy="1042.7" r="3.7" fill="rgba(0,10,255,0.43)"/>
<circle cx="232.5" cy="1042.7" r="3.7" fill="rgba(0,10,255,0.43)"/>
<circle cx="193.5" cy="1074.7" r="3.7" fill="rgba(0,10,255,0.43)"/>
<circle cx="198.1" cy="1074.7" r="3.7" fill="rgba(0,10,255,0.43)"/>
<circle cx="198.7" cy="1074.7" r="3.7" fill="rgba(0,10,255,0.43)"/>
<circle cx="199.4" cy="1074.7" r="3.7" fill="rgba(0,10,255,0.43)"/>
<circle cx="200.0" cy="1074.7" r="3.7" fill="rgba(0,10,255,0.43)"/>
<circle cx="208.0" cy="1074.7" r="3.7" fill="rgba(0,10,255,0.43)"/>
<circle cx="208.6" cy="1074.7" r="3.7" fill="rgba(0,10,255,0.43)"/>
<circle cx="210.7" cy="1074.7" r="3.7" fill="rgba(0,10,255,0.43)"/>
<circle cx="211.3" cy="1074.7" r="3.7" fill="rgba(0,10,255,0.43)"/>
<circle cx="215.3" cy="1074.7" r="3.7" fill="rgba(0,10,255,0.43)"/>
<circle cx="215.9" cy="1074.7" r="3.7" fill="rgba(0,10,255,0.43)"/>
<circle cx="218.6" cy="1074.7" r="3.7" fill="rgba(0,10,255,0.43)"/>
<circle cx="219.2" cy="1074.7" r="3.7" fill="rgba(0,10,255,0.43)"/>
<circle cx="221.9" cy="1074.7" r="3.7" fill="rgba(0,10,255,0.43)"/>
<circle cx="222.5" cy="1074.7" r="3.7" fill="rgba(0,10,255,0.43)"/>
<circle cx="225.2" cy="1074.7" r="3.7" fill="rgba(0,10,255,0.43)"/>
<circle cx="225.8" cy="1074.7" r="3.7" fill="rgba(0,10,255,0.43)"/>
<circle cx="228.5" cy="1074.7" r="3.7" fill="rgba(0,10,255,0.43)"/>
<circle cx="229.1" cy="1074.7" r="3.7" fill="rgba(0,10,255,0.43)"/>
<circle cx="231.2" cy="1074.7" r="3.7" fill="rgba(0,10,255,0.43)"/>
<circle cx="231.8" cy="1074.7" r="3.7" fill="rgba(0,10,255,0.43)"/>
<circle cx="192.2" cy="1106.7" r="3.7" fill="rgba(0,10,255,0.43)"/>
<circle cx="192.8" cy="1106.7" r="3.7" fill="rgba(0,10,255,0.43)"/>
<circle cx="194.8" cy="1106.7" r="3.7" fill="rgba(0,10,255,0.43)"/>
<circle cx="195.4" cy="1106.7" r="3.7" fill="rgba(0,10,255,0.43)"/>
<circle cx="198.1" cy="1106.7" r="3.7" fill="rgba(0,10,255,0.43)"/>
<circle cx="198.7" cy="1106.7" r="3.7" fill="rgba(0,10,255,0.43)"/>
<circle cx="201.4" cy="1106.7" r="3.7" fill="rgba(0,10,255,0.43)"/>
<circle cx="202.0" cy="1106.7" r="3.7" fill="rgba(0,10,255,0.43)"/>
<circle cx="204.7" cy="1106.7" r="3.7" fill="rgba(0,10,255,0.43)"/>
<circle cx="205.3" cy="1106.7" r="3.7" fill="rgba(0,10,255,0.43)"/>
<circle cx="208.0" cy="1106.7" r="3.7" fill="rgba(0,10,255,0.43)"/>
<circle cx="208.6" cy="1106.7" r="3.7" fill="rgba(0,10,255,0.43)"/>
<circle cx="211.3" cy="1106.7" r="3.7" fill="rgba(0,10,255,0.43)"/>
<circle cx="211.9" cy="1106.7" r="3.7" fill="rgba(0,10,255,0.43)"/>
<circle cx="216.6" cy="1106.7" r="3.7" fill="rgba(0,10,255,0.43)"/>
<circle cx="217.2" cy="1106.7" r="3.7" fill="rgba(0,10,255,0.43)"/>
<circle cx="219.3" cy="1106.7" r="3.7" fill="rgba(0,10,255,0.43)"/>
<circle cx="219.9" cy="1106.7" r="3.7" fill="rgba(0,10,255,0.43)"/>
<circle cx="222.6" cy="1106.7" r="3.7" fill="rgba(0,10,255,0.43)"/>
<circle cx="223.2" cy="1106.7" r="3.7" fill="rgba(0,10,255,0.43)"/>
<circle cx="227.9" cy="1106.7" r="3.7" fill="rgba(0,10,255,0.43)"/>
<circle cx="233.2" cy="1106.7" r="3.7" fill="rgba(0,10,255,0.43)"/>
<circle cx="233.8" cy="1106.7" r="3.7" fill="rgba(0,10,255,0.43)"/>
<circle cx="193.5" cy="1138.7" r="3.7" fill="rgba(0,10,255,0.43)"/>
<circle cx="197.5" cy="1138.7" r="3.7" fill="rgba(0,10,255,0.43)"/>
<circle cx="198.1" cy="1138.7" r="3.7" fill="rgba(0,10,255,0.43)"/>
<circle cx="200.1" cy="1138.7" r="3.7" fill="rgba(0,10,255,0.43)"/>
<circle cx="200.7" cy="1138.7" r="3.7" fill="rgba(0,10,255,0.43)"/>
<circle cx="202.8" cy="1138.7" r="3.7" fill="rgba(0,10,255,0.43)"/>
<circle cx="203.4" cy="1138.7" r="3.7" fill="rgba(0,10,255,0.43)"/>
<circle cx="205.4" cy="1138.7" r="3.7" fill="rgba(0,10,255,0.43)"/>
<circle cx="206.0" cy="1138.7" r="3.7" fill="rgba(0,10,255,0.43)"/>
<circle cx="208.0" cy="1138.7" r="3.7" fill="rgba(0,10,255,0.43)"/>
<circle cx="208.6" cy="1138.7" r="3.7" fill="rgba(0,10,255,0.43)"/>
<circle cx="210.7" cy="1138.7" r="3.7" fill="rgba(0,10,255,0.43)"/>
<circle cx="211.3" cy="1138.7" r="3.7" fill="rgba(0,10,255,0.43)"/>
<circle cx="213.3" cy="1138.7" r="3.7" fill="rgba(0,10,255,0.43)"/>
<circle cx="213.9" cy="1138.7" r="3.7" fill="rgba(0,10,255,0.43)"/>
<circle cx="218.6" cy="1138.7" r="3.7" fill="rgba(0,10,255,0.43)"/>
<circle cx="219.2" cy="1138.7" r="3.7" fill="rgba(0,10,255,0.43)"/>
<circle cx="221.3" cy="1138.7" r="3.7" fill="rgba(0,10,255,0.43)"/>
<circle cx="221.9" cy="1138.7" r="3.7" fill="rgba(0,10,255,0.43)"/>
<circle cx="223.9" cy="1138.7" r="3.7" fill="rgba(0,10,255,0.43)"/>
<circle cx="224.5" cy="1138.7" r="3.7" fill="rgba(0,10,255,0.43)"/>
<circle cx="226.6" cy="1138.7" r="3.7" fill="rgba(0,10,255,0.43)"/>
<circle cx="227.2" cy="1138.7" r="3.7" fill="rgba(0,10,255,0.43)"/>
<circle cx="229.2" cy="1138.7" r="3.7" fill="rgba(0,10,255,0.43)"/>
<circle cx="229.8" cy="1138.7" r="3.7" fill="rgba(0,10,255,0.43)"/>
<circle cx="231.2" cy="1138.7" r="3.7" fill="rgba(0,10,255,0.43)"/>
<circle cx="231.8" cy="1138.7" r="3.7" fill="rgba(0,10,255,0.43)"/>
<circle cx="415.2" cy="1010.7" r="3.7" fill="rgba(255,165,0,0.55)"/>
<circle cx="424.5" cy="1010.7" r="3.7" fill="rgba(255,165,0,0.55)"/>
<circle cx="435.7" cy="1010.7" r="3.7" fill="rgba(255,165,0,0.55)"/>
<circle cx="436.2" cy="1010.7" r="3.7" fill="rgba(255,165,0,0.55)"/>
<circle cx="411.2" cy="1074.7" r="3.7" fill="rgba(255,165,0,0.55)"/>
<circle cx="416.8" cy="1074.7" r="3.7" fill="rgba(255,165,0,0.55)"/>
<circle cx="421.8" cy="1074.7" r="3.7" fill="rgba(255,165,0,0.55)"/>
<circle cx="431.7" cy="1074.7" r="3.7" fill="rgba(255,165,0,0.55)"/>
<circle cx="432.2" cy="1074.7" r="3.7" fill="rgba(255,165,0,0.55)"/>
<circle cx="435.4" cy="1074.7" r="3.7" fill="rgba(255,165,0,0.55)"/>
<circle cx="436.0" cy="1074.7" r="3.7" fill="rgba(255,165,0,0.55)"/>
<circle cx="438.5" cy="1074.7" r="3.7" fill="rgba(255,165,0,0.55)"/>
<circle cx="439.0" cy="1074.7" r="3.7" fill="rgba(255,165,0,0.55)"/>
<circle cx="441.6" cy="1074.7" r="3.7" fill="rgba(255,165,0,0.55)"/>
<circle cx="442.1" cy="1074.7" r="3.7" fill="rgba(255,165,0,0.55)"/>
<circle cx="444.7" cy="1074.7" r="3.7" fill="rgba(255,165,0,0.55)"/>
<circle cx="445.2" cy="1074.7" r="3.7" fill="rgba(255,165,0,0.55)"/>
<circle cx="447.8" cy="1074.7" r="3.7" fill="rgba(255,165,0,0.55)"/>
<circle cx="451.5" cy="1074.7" r="3.7" fill="rgba(255,165,0,0.55)"/>
<circle cx="410.6" cy="1106.7" r="3.7" fill="rgba(255,165,0,0.55)"/>
<circle cx="411.1" cy="1106.7" r="3.7" fill="rgba(255,165,0,0.55)"/>
<circle cx="413.1" cy="1106.7" r="3.7" fill="rgba(255,165,0,0.55)"/>
<circle cx="413.6" cy="1106.7" r="3.7" fill="rgba(255,165,0,0.55)"/>
<circle cx="416.8" cy="1106.7" r="3.7" fill="rgba(255,165,0,0.55)"/>
<circle cx="417.3" cy="1106.7" r="3.7" fill="rgba(255,165,0,0.55)"/>
<circle cx="419.9" cy="1106.7" r="3.7" fill="rgba(255,165,0,0.55)"/>
<circle cx="420.4" cy="1106.7" r="3.7" fill="rgba(255,165,0,0.55)"/>
<circle cx="423.0" cy="1106.7" r="3.7" fill="rgba(255,165,0,0.55)"/>
<circle cx="423.5" cy="1106.7" r="3.7" fill="rgba(255,165,0,0.55)"/>
<circle cx="426.1" cy="1106.7" r="3.7" fill="rgba(255,165,0,0.55)"/>
<circle cx="426.6" cy="1106.7" r="3.7" fill="rgba(255,165,0,0.55)"/>
<circle cx="431.7" cy="1106.7" r="3.7" fill="rgba(255,165,0,0.55)"/>
<circle cx="432.2" cy="1106.7" r="3.7" fill="rgba(255,165,0,0.55)"/>
<circle cx="434.8" cy="1106.7" r="3.7" fill="rgba(255,165,0,0.55)"/>
<circle cx="435.3" cy="1106.7" r="3.7" fill="rgba(255,165,0,0.55)"/>
<circle cx="438.5" cy="1106.7" r="3.7" fill="rgba(255,165,0,0.55)"/>
<circle cx="441.6" cy="1106.7" r="3.7" fill="rgba(255,165,0,0.55)"/>
<circle cx="447.8" cy="1106.7" r="3.7" fill="rgba(255,165,0,0.55)"/>
<circle cx="413.1" cy="1138.7" r="3.7" fill="rgba(255,165,0,0.55)"/>
<circle cx="418.7" cy="1138.7" r="3.7" fill="rgba(255,165,0,0.55)"/>
<circle cx="419.2" cy="1138.7" r="3.7" fill="rgba(255,165,0,0.55)"/>
<circle cx="421.8" cy="1138.7" r="3.7" fill="rgba(255,165,0,0.55)"/>
<circle cx="422.3" cy="1138.7" r="3.7" fill="rgba(255,165,0,0.55)"/>
<circle cx="424.9" cy="1138.7" r="3.7" fill="rgba(255,165,0,0.55)"/>
<circle cx="425.4" cy="1138.7" r="3.7" fill="rgba(255,165,0,0.55)"/>
<circle cx="436.7" cy="1138.7" r="3.7" fill="rgba(255,165,0,0.55)"/>
<circle cx="437.2" cy="1138.7" r="3.7" fill="rgba(255,165,0,0.55)"/>
<circle cx="446.6" cy="1138.7" r="3.7" fill="rgba(255,165,0,0.55)"/>
<circle cx="447.1" cy="1138.7" r="3.7" fill="rgba(255,165,0,0.55)"/>
<circle cx="451.5" cy="1138.7" r="3.7" fill="rgba(255,165,0,0.55)"/>
<circle cx="633.2" cy="1042.7" r="3.7" fill="rgba(255,0,0,0.42)"/>
<circle cx="629.5" cy="1074.7" r="3.7" fill="rgba(255,0,0,0.42)"/>
<circle cx="636.2" cy="1074.7" r="3.7" fill="rgba(255,0,0,0.42)"/>
<circle cx="648.6" cy="1074.7" r="3.7" fill="rgba(255,0,0,0.42)"/>
<circle cx="649.1" cy="1074.7" r="3.7" fill="rgba(255,0,0,0.42)"/>
<circle cx="641.8" cy="1106.7" r="3.7" fill="rgba(255,0,0,0.42)"/>
<circle cx="650.5" cy="1106.7" r="3.7" fill="rgba(255,0,0,0.42)"/>
<circle cx="628.7" cy="1138.7" r="3.7" fill="rgba(255,0,0,0.42)"/>
<circle cx="650.7" cy="1138.7" r="3.7" fill="rgba(255,0,0,0.42)"/>
<circle cx="654.5" cy="1138.7" r="3.7" fill="rgba(255,0,0,0.42)"/>
<circle cx="655.0" cy="1138.7" r="3.7" fill="rgba(255,0,0,0.42)"/>
<circle cx="655.5" cy="1138.7" r="3.7" fill="rgba(255,0,0,0.42)"/>
<circle cx="656.1" cy="1138.7" r="3.7" fill="rgba(255,0,0,0.42)"/>
<circle cx="656.6" cy="1138.7" r="3.7" fill="rgba(255,0,0,0.42)"/>
<circle cx="657.2" cy="1138.7" r="3.7" fill="rgba(255,0,0,0.42)"/>
<circle cx="657.7" cy="1138.7" r="3.7" fill="rgba(255,0,0,0.42)"/>
<circle cx="666.8" cy="1138.7" r="3.7" fill="rgba(255,0,0,0.42)"/>
<line x1="213.3" x2="213.3" y1="912.8" y2="1130.9" stroke="#333" stroke-width="2.7" stroke-linecap="butt"/>
<rect x="207.45" y="1015.80" width="11.7" height="11.6" fill="#333"/>
<line x1="431.8" x2="431.8" y1="1055.1" y2="1131.0" stroke="#333" stroke-width="2.7" stroke-linecap="butt"/>
<rect x="425.95" y="1087.20" width="11.7" height="11.6" fill="#333"/>
<line x1="650.4" x2="650.4" y1="1075.6" y2="1145.8" stroke="#333" stroke-width="2.7" stroke-linecap="butt"/>
<rect x="644.55" y="1105.20" width="11.7" height="11.6" fill="#333"/>
<rect x="78.0" y="4.4" width="708.1" height="380.1" fill="none" stroke="#0d0d0d" stroke-width="1.55"/>
<rect x="78.0" y="420.8" width="708.1" height="380.7" fill="none" stroke="#0d0d0d" stroke-width="1.55"/>
<rect x="78.0" y="837.9" width="708.1" height="345.6" fill="none" stroke="#0d0d0d" stroke-width="1.55"/>
<line x1="68.2" x2="78.0" y1="18.2" y2="18.2" stroke="#0d0d0d" stroke-width="1.5"/>
<text class="tk" x="59.3" y="24.5" text-anchor="end">120</text>
<line x1="68.2" x2="78.0" y1="82.2" y2="82.2" stroke="#0d0d0d" stroke-width="1.5"/>
<text class="tk" x="59.3" y="88.5" text-anchor="end">100</text>
<line x1="68.2" x2="78.0" y1="146.2" y2="146.2" stroke="#0d0d0d" stroke-width="1.5"/>
<text class="tk" x="59.3" y="152.5" text-anchor="end">80</text>
<line x1="68.2" x2="78.0" y1="210.2" y2="210.2" stroke="#0d0d0d" stroke-width="1.5"/>
<text class="tk" x="59.3" y="216.5" text-anchor="end">60</text>
<line x1="68.2" x2="78.0" y1="274.2" y2="274.2" stroke="#0d0d0d" stroke-width="1.5"/>
<text class="tk" x="59.3" y="280.5" text-anchor="end">40</text>
<line x1="68.2" x2="78.0" y1="338.3" y2="338.3" stroke="#0d0d0d" stroke-width="1.5"/>
<text class="tk" x="59.3" y="344.6" text-anchor="end">20</text>
<line x1="68.2" x2="78.0" y1="435.2" y2="435.2" stroke="#0d0d0d" stroke-width="1.5"/>
<text class="tk" x="59.3" y="441.5" text-anchor="end">20</text>
<line x1="68.2" x2="78.0" y1="505.6" y2="505.6" stroke="#0d0d0d" stroke-width="1.5"/>
<text class="tk" x="59.3" y="511.9" text-anchor="end">16</text>
<line x1="68.2" x2="78.0" y1="576.1" y2="576.1" stroke="#0d0d0d" stroke-width="1.5"/>
<text class="tk" x="59.3" y="582.4" text-anchor="end">12</text>
<line x1="68.2" x2="78.0" y1="646.5" y2="646.5" stroke="#0d0d0d" stroke-width="1.5"/>
<text class="tk" x="59.3" y="652.8" text-anchor="end">8</text>
<line x1="68.2" x2="78.0" y1="717.0" y2="717.0" stroke="#0d0d0d" stroke-width="1.5"/>
<text class="tk" x="59.3" y="723.3" text-anchor="end">4</text>
<line x1="68.2" x2="78.0" y1="787.5" y2="787.5" stroke="#0d0d0d" stroke-width="1.5"/>
<text class="tk" x="59.3" y="793.8" text-anchor="end">0</text>
<line x1="68.2" x2="78.0" y1="850.7" y2="850.7" stroke="#0d0d0d" stroke-width="1.5"/>
<text class="tk" x="59.3" y="857.0" text-anchor="end">10</text>
<line x1="68.2" x2="78.0" y1="914.7" y2="914.7" stroke="#0d0d0d" stroke-width="1.5"/>
<text class="tk" x="59.3" y="921.0" text-anchor="end">8</text>
<line x1="68.2" x2="78.0" y1="978.7" y2="978.7" stroke="#0d0d0d" stroke-width="1.5"/>
<text class="tk" x="59.3" y="985.0" text-anchor="end">6</text>
<line x1="68.2" x2="78.0" y1="1042.7" y2="1042.7" stroke="#0d0d0d" stroke-width="1.5"/>
<text class="tk" x="59.3" y="1049.0" text-anchor="end">4</text>
<line x1="68.2" x2="78.0" y1="1106.7" y2="1106.7" stroke="#0d0d0d" stroke-width="1.5"/>
<text class="tk" x="59.3" y="1113.0" text-anchor="end">2</text>
<line x1="68.2" x2="78.0" y1="1170.7" y2="1170.7" stroke="#0d0d0d" stroke-width="1.5"/>
<text class="tk" x="59.3" y="1177.0" text-anchor="end">0</text>
<text class="pl" x="83.9" y="28.0">(A)</text>
<text class="pl" x="83.9" y="444.4">(B)</text>
<text class="pl" x="83.9" y="861.5">(C)</text>
<text class="ti" transform="translate(19.6,194.2) rotate(-90)" text-anchor="middle">Wing span (mm)</text>
<text class="ti" transform="translate(29.0,611) rotate(-90)" text-anchor="middle">Host plant number</text>
<text class="ti" transform="translate(29.0,1010.5) rotate(-90)" text-anchor="middle">Nectar plant number</text>
<text class="ti" x="213.3" y="1207.3" text-anchor="middle">LC</text>
<text class="ti" x="431.8" y="1207.3" text-anchor="middle">VU</text>
<text class="ti" x="650.4" y="1207.3" text-anchor="middle">EN</text>
</svg></body></html>
